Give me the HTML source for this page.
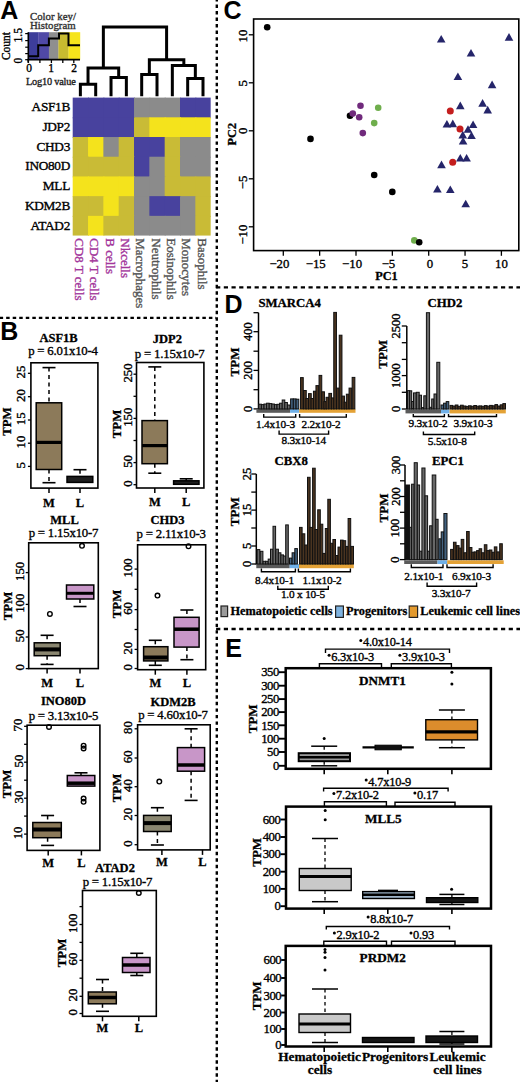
<!DOCTYPE html>
<html><head><meta charset="utf-8"><style>
html,body{margin:0;padding:0;background:#fff;width:520px;height:1082px;overflow:hidden}
svg{display:block}
</style></head><body>
<svg width="520" height="1082" viewBox="0 0 520 1082">
<rect x="0" y="0" width="520" height="1082" fill="#fff"/>
<line x1="216.8" y1="-1.97" x2="216.8" y2="1082" stroke="#000" stroke-width="2.4" stroke-dasharray="3.4 3.117"/>
<line x1="-0.39" y1="317.8" x2="216" y2="317.8" stroke="#000" stroke-width="2.2" stroke-dasharray="3.5 3.04"/>
<line x1="216.1" y1="287.3" x2="520" y2="287.3" stroke="#000" stroke-width="2.3" stroke-dasharray="4.2 3.5"/>
<line x1="216.1" y1="629" x2="520" y2="629" stroke="#000" stroke-width="2.3" stroke-dasharray="4.2 3.5"/>
<text x="0.3" y="18.8" font-family='"Liberation Sans", sans-serif' font-size="25" font-weight="bold" text-anchor="start" fill="#000" >A</text>
<text x="0.2" y="340" font-family='"Liberation Sans", sans-serif' font-size="25" font-weight="bold" text-anchor="start" fill="#000" >B</text>
<text x="223.6" y="19" font-family='"Liberation Sans", sans-serif' font-size="25" font-weight="bold" text-anchor="start" fill="#000" >C</text>
<text x="224.6" y="313" font-family='"Liberation Sans", sans-serif' font-size="25" font-weight="bold" text-anchor="start" fill="#000" >D</text>
<text x="225.2" y="657.2" font-family='"Liberation Sans", sans-serif' font-size="25" font-weight="bold" text-anchor="start" fill="#000" >E</text>
<rect x="72.7" y="97.6" width="16.33" height="20.71" fill="#48429e"/>
<rect x="88.03" y="97.6" width="16.33" height="20.71" fill="#48429e"/>
<rect x="103.36" y="97.6" width="16.33" height="20.71" fill="#48429e"/>
<rect x="118.69" y="97.6" width="16.33" height="20.71" fill="#48429e"/>
<rect x="134.02" y="97.6" width="16.33" height="20.71" fill="#8b8b8b"/>
<rect x="149.35" y="97.6" width="16.33" height="20.71" fill="#8b8b8b"/>
<rect x="164.68" y="97.6" width="16.33" height="20.71" fill="#8b8b8b"/>
<rect x="180.01" y="97.6" width="16.33" height="20.71" fill="#48429e"/>
<rect x="195.34" y="97.6" width="15.33" height="20.71" fill="#48429e"/>
<rect x="72.7" y="117.31" width="16.33" height="20.71" fill="#48429e"/>
<rect x="88.03" y="117.31" width="16.33" height="20.71" fill="#48429e"/>
<rect x="103.36" y="117.31" width="16.33" height="20.71" fill="#48429e"/>
<rect x="118.69" y="117.31" width="16.33" height="20.71" fill="#48429e"/>
<rect x="134.02" y="117.31" width="16.33" height="20.71" fill="#c9bb36"/>
<rect x="149.35" y="117.31" width="16.33" height="20.71" fill="#f4e31c"/>
<rect x="164.68" y="117.31" width="16.33" height="20.71" fill="#f4e31c"/>
<rect x="180.01" y="117.31" width="16.33" height="20.71" fill="#f4e31c"/>
<rect x="195.34" y="117.31" width="15.33" height="20.71" fill="#f4e31c"/>
<rect x="72.7" y="137.02" width="16.33" height="20.71" fill="#c9bb36"/>
<rect x="88.03" y="137.02" width="16.33" height="20.71" fill="#f4e31c"/>
<rect x="103.36" y="137.02" width="16.33" height="20.71" fill="#8b8b8b"/>
<rect x="118.69" y="137.02" width="16.33" height="20.71" fill="#c9bb36"/>
<rect x="134.02" y="137.02" width="16.33" height="20.71" fill="#48429e"/>
<rect x="149.35" y="137.02" width="16.33" height="20.71" fill="#48429e"/>
<rect x="164.68" y="137.02" width="16.33" height="20.71" fill="#c9bb36"/>
<rect x="180.01" y="137.02" width="16.33" height="20.71" fill="#8b8b8b"/>
<rect x="195.34" y="137.02" width="15.33" height="20.71" fill="#8b8b8b"/>
<rect x="72.7" y="156.73" width="16.33" height="20.71" fill="#c9bb36"/>
<rect x="88.03" y="156.73" width="16.33" height="20.71" fill="#c9bb36"/>
<rect x="103.36" y="156.73" width="16.33" height="20.71" fill="#c9bb36"/>
<rect x="118.69" y="156.73" width="16.33" height="20.71" fill="#c9bb36"/>
<rect x="134.02" y="156.73" width="16.33" height="20.71" fill="#48429e"/>
<rect x="149.35" y="156.73" width="16.33" height="20.71" fill="#8b8b8b"/>
<rect x="164.68" y="156.73" width="16.33" height="20.71" fill="#c9bb36"/>
<rect x="180.01" y="156.73" width="16.33" height="20.71" fill="#8b8b8b"/>
<rect x="195.34" y="156.73" width="15.33" height="20.71" fill="#8b8b8b"/>
<rect x="72.7" y="176.44" width="16.33" height="20.71" fill="#f4e31c"/>
<rect x="88.03" y="176.44" width="16.33" height="20.71" fill="#f4e31c"/>
<rect x="103.36" y="176.44" width="16.33" height="20.71" fill="#f4e31c"/>
<rect x="118.69" y="176.44" width="16.33" height="20.71" fill="#f4e31c"/>
<rect x="134.02" y="176.44" width="16.33" height="20.71" fill="#8b8b8b"/>
<rect x="149.35" y="176.44" width="16.33" height="20.71" fill="#8b8b8b"/>
<rect x="164.68" y="176.44" width="16.33" height="20.71" fill="#c9bb36"/>
<rect x="180.01" y="176.44" width="16.33" height="20.71" fill="#c9bb36"/>
<rect x="195.34" y="176.44" width="15.33" height="20.71" fill="#c9bb36"/>
<rect x="72.7" y="196.15" width="16.33" height="20.71" fill="#c9bb36"/>
<rect x="88.03" y="196.15" width="16.33" height="20.71" fill="#c9bb36"/>
<rect x="103.36" y="196.15" width="16.33" height="20.71" fill="#f4e31c"/>
<rect x="118.69" y="196.15" width="16.33" height="20.71" fill="#c9bb36"/>
<rect x="134.02" y="196.15" width="16.33" height="20.71" fill="#8b8b8b"/>
<rect x="149.35" y="196.15" width="16.33" height="20.71" fill="#48429e"/>
<rect x="164.68" y="196.15" width="16.33" height="20.71" fill="#48429e"/>
<rect x="180.01" y="196.15" width="16.33" height="20.71" fill="#8b8b8b"/>
<rect x="195.34" y="196.15" width="15.33" height="20.71" fill="#c9bb36"/>
<rect x="72.7" y="215.86" width="16.33" height="19.71" fill="#c9bb36"/>
<rect x="88.03" y="215.86" width="16.33" height="19.71" fill="#f4e31c"/>
<rect x="103.36" y="215.86" width="16.33" height="19.71" fill="#c9bb36"/>
<rect x="118.69" y="215.86" width="16.33" height="19.71" fill="#c9bb36"/>
<rect x="134.02" y="215.86" width="16.33" height="19.71" fill="#8b8b8b"/>
<rect x="149.35" y="215.86" width="16.33" height="19.71" fill="#8b8b8b"/>
<rect x="164.68" y="215.86" width="16.33" height="19.71" fill="#8b8b8b"/>
<rect x="180.01" y="215.86" width="16.33" height="19.71" fill="#8b8b8b"/>
<rect x="195.34" y="215.86" width="15.33" height="19.71" fill="#c9bb36"/>
<text x="70" y="111.36" font-family='"Liberation Serif", serif' font-size="13.3" text-anchor="end" fill="#000" stroke="#000" stroke-width="0.35" letter-spacing="-0.3">ASF1B</text>
<text x="70" y="131.06" font-family='"Liberation Serif", serif' font-size="13.3" text-anchor="end" fill="#000" stroke="#000" stroke-width="0.35" letter-spacing="-0.3">JDP2</text>
<text x="70" y="150.77" font-family='"Liberation Serif", serif' font-size="13.3" text-anchor="end" fill="#000" stroke="#000" stroke-width="0.35" letter-spacing="-0.3">CHD3</text>
<text x="70" y="170.48" font-family='"Liberation Serif", serif' font-size="13.3" text-anchor="end" fill="#000" stroke="#000" stroke-width="0.35" letter-spacing="-0.3">INO80D</text>
<text x="70" y="190.19" font-family='"Liberation Serif", serif' font-size="13.3" text-anchor="end" fill="#000" stroke="#000" stroke-width="0.35" letter-spacing="-0.3">MLL</text>
<text x="70" y="209.91" font-family='"Liberation Serif", serif' font-size="13.3" text-anchor="end" fill="#000" stroke="#000" stroke-width="0.35" letter-spacing="-0.3">KDM2B</text>
<text x="70" y="229.62" font-family='"Liberation Serif", serif' font-size="13.3" text-anchor="end" fill="#000" stroke="#000" stroke-width="0.35" letter-spacing="-0.3">ATAD2</text>
<text x="74.97" y="238.3" font-family='"Liberation Serif", serif' font-size="13" text-anchor="start" fill="#a3369b" stroke="#a3369b" stroke-width="0.35" transform="rotate(90 74.97 238.3)" >CD8 T cells</text>
<text x="90.3" y="238.3" font-family='"Liberation Serif", serif' font-size="13" text-anchor="start" fill="#a3369b" stroke="#a3369b" stroke-width="0.35" transform="rotate(90 90.3 238.3)" >CD4 T cells</text>
<text x="105.62" y="238.3" font-family='"Liberation Serif", serif' font-size="13" text-anchor="start" fill="#a3369b" stroke="#a3369b" stroke-width="0.35" transform="rotate(90 105.62 238.3)" >B cells</text>
<text x="120.95" y="238.3" font-family='"Liberation Serif", serif' font-size="13" text-anchor="start" fill="#a3369b" stroke="#a3369b" stroke-width="0.35" transform="rotate(90 120.95 238.3)" >Nkcells</text>
<text x="136.28" y="238.3" font-family='"Liberation Serif", serif' font-size="13" text-anchor="start" fill="#555" stroke="#555" stroke-width="0.35" transform="rotate(90 136.28 238.3)" >Macrophages</text>
<text x="151.62" y="238.3" font-family='"Liberation Serif", serif' font-size="13" text-anchor="start" fill="#555" stroke="#555" stroke-width="0.35" transform="rotate(90 151.62 238.3)" >Neutrophils</text>
<text x="166.94" y="238.3" font-family='"Liberation Serif", serif' font-size="13" text-anchor="start" fill="#555" stroke="#555" stroke-width="0.35" transform="rotate(90 166.94 238.3)" >Eosinophils</text>
<text x="182.27" y="238.3" font-family='"Liberation Serif", serif' font-size="13" text-anchor="start" fill="#555" stroke="#555" stroke-width="0.35" transform="rotate(90 182.27 238.3)" >Monocytes</text>
<text x="197.6" y="238.3" font-family='"Liberation Serif", serif' font-size="13" text-anchor="start" fill="#555" stroke="#555" stroke-width="0.35" transform="rotate(90 197.6 238.3)" >Basophils</text>
<path d="M80.37,96.2 V84.2 H95.7 V96.2" stroke="#000" stroke-width="3" fill="none" />
<path d="M111.03,96.2 V77.4 H126.36 V96.2" stroke="#000" stroke-width="3" fill="none" />
<path d="M88.03,84.2 V67.9 H118.69 V77.4" stroke="#000" stroke-width="3" fill="none" />
<path d="M141.69,96.2 V74.5 H157.01 V96.2" stroke="#000" stroke-width="3" fill="none" />
<path d="M187.68,96.2 V78.4 H203 V96.2" stroke="#000" stroke-width="3" fill="none" />
<path d="M172.34,96.2 V65.4 H195.34 V78.4" stroke="#000" stroke-width="3" fill="none" />
<path d="M149.35,74.5 V59.7 H183.84 V65.4" stroke="#000" stroke-width="3" fill="none" />
<path d="M103.36,67.9 V26.9 H166.6 V59.7" stroke="#000" stroke-width="3" fill="none" />
<text x="30" y="20.2" font-family='"Liberation Serif", serif' font-size="10.8" text-anchor="start" fill="#333" stroke="#333" stroke-width="0.35" >Color key/</text>
<text x="30" y="29" font-family='"Liberation Serif", serif' font-size="10.8" text-anchor="start" fill="#333" stroke="#333" stroke-width="0.35" >Histogram</text>
<rect x="28.3" y="32.2" width="10.1" height="27.5" fill="#3d3d9a"/>
<rect x="38.2" y="32.2" width="10.9" height="27.5" fill="#5049a6"/>
<rect x="48.9" y="32.2" width="9.7" height="27.5" fill="#8f8f8f"/>
<rect x="58.4" y="32.2" width="10.3" height="27.5" fill="#c8bb30"/>
<rect x="68.5" y="32.2" width="11.7" height="27.5" fill="#f6e41c"/>
<path d="M28.3,56.2 H38.2 V45.2 H48.9 V38.5 H59 V33.4 H68.5 V45.2 H80" stroke="#000" stroke-width="2" fill="none" />
<line x1="28.3" y1="32.2" x2="28.3" y2="62.5" stroke="#000" stroke-width="1.6"/>
<line x1="27.5" y1="59.7" x2="80" y2="59.7" stroke="#000" stroke-width="1.8"/>
<line x1="25.2" y1="33.6" x2="28.3" y2="33.6" stroke="#000" stroke-width="1.2"/>
<line x1="25.2" y1="40.6" x2="28.3" y2="40.6" stroke="#000" stroke-width="1.2"/>
<line x1="25.2" y1="47.2" x2="28.3" y2="47.2" stroke="#000" stroke-width="1.2"/>
<line x1="25.2" y1="53.6" x2="28.3" y2="53.6" stroke="#000" stroke-width="1.2"/>
<line x1="25.2" y1="59.7" x2="28.3" y2="59.7" stroke="#000" stroke-width="1.2"/>
<line x1="28.3" y1="59.7" x2="28.3" y2="63" stroke="#000" stroke-width="1.3"/>
<line x1="39.9" y1="59.7" x2="39.9" y2="63" stroke="#000" stroke-width="1.3"/>
<line x1="51.4" y1="59.7" x2="51.4" y2="63" stroke="#000" stroke-width="1.3"/>
<line x1="62.8" y1="59.7" x2="62.8" y2="63" stroke="#000" stroke-width="1.3"/>
<line x1="73.8" y1="59.7" x2="73.8" y2="63" stroke="#000" stroke-width="1.3"/>
<text x="29.2" y="72.3" font-family='"Liberation Serif", serif' font-size="11.5" text-anchor="middle" fill="#000" stroke="#000" stroke-width="0.35" >0</text>
<text x="51.2" y="72.3" font-family='"Liberation Serif", serif' font-size="11.5" text-anchor="middle" fill="#000" stroke="#000" stroke-width="0.35" >1</text>
<text x="74" y="72.3" font-family='"Liberation Serif", serif' font-size="11.5" text-anchor="middle" fill="#000" stroke="#000" stroke-width="0.35" >2</text>
<text x="26" y="85.4" font-family='"Liberation Serif", serif' font-size="10.3" text-anchor="start" fill="#222" stroke="#222" stroke-width="0.35" letter-spacing="-0.2">Log10 value</text>
<text x="22.5" y="35.3" font-family='"Liberation Serif", serif' font-size="11.5" text-anchor="middle" fill="#000" stroke="#000" stroke-width="0.35" transform="rotate(-90 22.5 35.3)" >1.5</text>
<text x="22.5" y="60.6" font-family='"Liberation Serif", serif' font-size="11.5" text-anchor="middle" fill="#000" stroke="#000" stroke-width="0.35" transform="rotate(-90 22.5 60.6)" >0</text>
<text x="10.2" y="46" font-family='"Liberation Serif", serif' font-size="11.5" text-anchor="middle" fill="#000" stroke="#000" stroke-width="0.35" transform="rotate(-90 10.2 46)" >Count</text>
<rect x="30.9" y="362.8" width="67" height="125.3" fill="none" stroke="#000" stroke-width="1.6"/>
<text x="58.6" y="341.7" font-family='"Liberation Serif", serif' font-size="12.5" font-weight="bold" text-anchor="middle" fill="#000" stroke="#000" stroke-width="0.3" >ASF1B</text>
<text x="63" y="355.4" font-family='"Liberation Serif", serif' font-size="12.8" text-anchor="middle" fill="#000" stroke="#000" stroke-width="0.35" letter-spacing="-0.2">p = 6.01x10-4</text>
<line x1="27.9" y1="373.3" x2="30.9" y2="373.3" stroke="#000" stroke-width="1.3"/>
<text x="25.2" y="372.1" font-family='"Liberation Serif", serif' font-size="12.8" text-anchor="middle" fill="#000" stroke="#000" stroke-width="0.35" transform="rotate(-90 25.2 372.1)" >25</text>
<line x1="27.9" y1="396.7" x2="30.9" y2="396.7" stroke="#000" stroke-width="1.3"/>
<text x="25.2" y="395.5" font-family='"Liberation Serif", serif' font-size="12.8" text-anchor="middle" fill="#000" stroke="#000" stroke-width="0.35" transform="rotate(-90 25.2 395.5)" >20</text>
<line x1="27.9" y1="420" x2="30.9" y2="420" stroke="#000" stroke-width="1.3"/>
<text x="25.2" y="418.8" font-family='"Liberation Serif", serif' font-size="12.8" text-anchor="middle" fill="#000" stroke="#000" stroke-width="0.35" transform="rotate(-90 25.2 418.8)" >15</text>
<line x1="27.9" y1="443.2" x2="30.9" y2="443.2" stroke="#000" stroke-width="1.3"/>
<text x="25.2" y="442" font-family='"Liberation Serif", serif' font-size="12.8" text-anchor="middle" fill="#000" stroke="#000" stroke-width="0.35" transform="rotate(-90 25.2 442)" >10</text>
<line x1="27.9" y1="466.4" x2="30.9" y2="466.4" stroke="#000" stroke-width="1.3"/>
<text x="25.2" y="465.2" font-family='"Liberation Serif", serif' font-size="12.8" text-anchor="middle" fill="#000" stroke="#000" stroke-width="0.35" transform="rotate(-90 25.2 465.2)" >5</text>
<text x="11.5" y="421.6" font-family='"Liberation Serif", serif' font-size="12.8" font-weight="bold" text-anchor="middle" fill="#000" stroke="#000" stroke-width="0.3" transform="rotate(-90 11.5 421.6)" >TPM</text>
<line x1="49" y1="488.1" x2="49" y2="493.1" stroke="#000" stroke-width="1.5"/>
<text x="49" y="506.6" font-family='"Liberation Serif", serif' font-size="12.5" font-weight="bold" text-anchor="middle" fill="#000" stroke="#000" stroke-width="0.3" >M</text>
<line x1="80" y1="488.1" x2="80" y2="493.1" stroke="#000" stroke-width="1.5"/>
<text x="80" y="506.6" font-family='"Liberation Serif", serif' font-size="12.5" font-weight="bold" text-anchor="middle" fill="#000" stroke="#000" stroke-width="0.3" >L</text>
<line x1="49" y1="367.6" x2="49" y2="402.8" stroke="#000" stroke-width="1.5" stroke-dasharray="4 3.5"/>
<line x1="42.5" y1="367.6" x2="55.5" y2="367.6" stroke="#000" stroke-width="1.6"/>
<line x1="49" y1="469.5" x2="49" y2="482.7" stroke="#000" stroke-width="1.5" stroke-dasharray="4 3.5"/>
<line x1="42.5" y1="482.7" x2="55.5" y2="482.7" stroke="#000" stroke-width="1.6"/>
<rect x="36.2" y="402.8" width="25.5" height="66.7" fill="#8c7a5a" stroke="#000" stroke-width="1.5"/>
<line x1="36.2" y1="442.4" x2="61.7" y2="442.4" stroke="#000" stroke-width="3.2"/>
<line x1="80" y1="469.7" x2="80" y2="476.4" stroke="#000" stroke-width="1.5" stroke-dasharray="4 3.5"/>
<line x1="73.5" y1="469.7" x2="86.5" y2="469.7" stroke="#000" stroke-width="1.6"/>
<rect x="67" y="476.4" width="25.8" height="6" fill="#1e1e1e" stroke="#000" stroke-width="1.5"/>
<rect x="136.5" y="362.5" width="67.4" height="125.5" fill="none" stroke="#000" stroke-width="1.6"/>
<text x="167.4" y="343.2" font-family='"Liberation Serif", serif' font-size="12.5" font-weight="bold" text-anchor="middle" fill="#000" stroke="#000" stroke-width="0.3" >JDP2</text>
<text x="169.7" y="358" font-family='"Liberation Serif", serif' font-size="12.8" text-anchor="middle" fill="#000" stroke="#000" stroke-width="0.35" letter-spacing="-0.2">p = 1.15x10-7</text>
<line x1="133.5" y1="374.2" x2="136.5" y2="374.2" stroke="#000" stroke-width="1.3"/>
<text x="131.8" y="373" font-family='"Liberation Serif", serif' font-size="12.8" text-anchor="middle" fill="#000" stroke="#000" stroke-width="0.35" transform="rotate(-90 131.8 373)" >250</text>
<line x1="133.5" y1="396.3" x2="136.5" y2="396.3" stroke="#000" stroke-width="1.3"/>
<line x1="133.5" y1="418.4" x2="136.5" y2="418.4" stroke="#000" stroke-width="1.3"/>
<text x="131.8" y="417.2" font-family='"Liberation Serif", serif' font-size="12.8" text-anchor="middle" fill="#000" stroke="#000" stroke-width="0.35" transform="rotate(-90 131.8 417.2)" >150</text>
<line x1="133.5" y1="440.5" x2="136.5" y2="440.5" stroke="#000" stroke-width="1.3"/>
<line x1="133.5" y1="462.6" x2="136.5" y2="462.6" stroke="#000" stroke-width="1.3"/>
<text x="131.8" y="461.4" font-family='"Liberation Serif", serif' font-size="12.8" text-anchor="middle" fill="#000" stroke="#000" stroke-width="0.35" transform="rotate(-90 131.8 461.4)" >50</text>
<line x1="133.5" y1="484.7" x2="136.5" y2="484.7" stroke="#000" stroke-width="1.3"/>
<text x="131.8" y="483.5" font-family='"Liberation Serif", serif' font-size="12.8" text-anchor="middle" fill="#000" stroke="#000" stroke-width="0.35" transform="rotate(-90 131.8 483.5)" >0</text>
<text x="121" y="424" font-family='"Liberation Serif", serif' font-size="12.8" font-weight="bold" text-anchor="middle" fill="#000" stroke="#000" stroke-width="0.3" transform="rotate(-90 121 424)" >TPM</text>
<line x1="154.8" y1="488" x2="154.8" y2="493" stroke="#000" stroke-width="1.5"/>
<text x="154.8" y="505.8" font-family='"Liberation Serif", serif' font-size="12.5" font-weight="bold" text-anchor="middle" fill="#000" stroke="#000" stroke-width="0.3" >M</text>
<line x1="186.2" y1="488" x2="186.2" y2="493" stroke="#000" stroke-width="1.5"/>
<text x="186.2" y="505.8" font-family='"Liberation Serif", serif' font-size="12.5" font-weight="bold" text-anchor="middle" fill="#000" stroke="#000" stroke-width="0.3" >L</text>
<line x1="154.8" y1="366.9" x2="154.8" y2="420.6" stroke="#000" stroke-width="1.5" stroke-dasharray="4 3.5"/>
<line x1="148.3" y1="366.9" x2="161.3" y2="366.9" stroke="#000" stroke-width="1.6"/>
<line x1="154.8" y1="463.7" x2="154.8" y2="473.2" stroke="#000" stroke-width="1.5" stroke-dasharray="4 3.5"/>
<line x1="148.3" y1="473.2" x2="161.3" y2="473.2" stroke="#000" stroke-width="1.6"/>
<rect x="142" y="420.6" width="25.4" height="43.1" fill="#8c7a5a" stroke="#000" stroke-width="1.5"/>
<line x1="142" y1="445.6" x2="167.4" y2="445.6" stroke="#000" stroke-width="3.2"/>
<line x1="186.2" y1="478.8" x2="186.2" y2="480.8" stroke="#000" stroke-width="1.5" stroke-dasharray="4 3.5"/>
<line x1="179.7" y1="478.8" x2="192.7" y2="478.8" stroke="#000" stroke-width="1.6"/>
<rect x="173.6" y="480.8" width="25.4" height="3.5" fill="#1e1e1e" stroke="#000" stroke-width="1.5"/>
<rect x="28.7" y="542.8" width="69.6" height="125.8" fill="none" stroke="#000" stroke-width="1.6"/>
<text x="64.5" y="523.6" font-family='"Liberation Serif", serif' font-size="12.5" font-weight="bold" text-anchor="middle" fill="#000" stroke="#000" stroke-width="0.3" >MLL</text>
<text x="63.5" y="537.3" font-family='"Liberation Serif", serif' font-size="12.8" text-anchor="middle" fill="#000" stroke="#000" stroke-width="0.35" letter-spacing="-0.2">p = 1.15x10-7</text>
<line x1="25.7" y1="572.6" x2="28.7" y2="572.6" stroke="#000" stroke-width="1.3"/>
<text x="24" y="571.4" font-family='"Liberation Serif", serif' font-size="12.8" text-anchor="middle" fill="#000" stroke="#000" stroke-width="0.35" transform="rotate(-90 24 571.4)" >150</text>
<line x1="25.7" y1="604.4" x2="28.7" y2="604.4" stroke="#000" stroke-width="1.3"/>
<text x="24" y="603.2" font-family='"Liberation Serif", serif' font-size="12.8" text-anchor="middle" fill="#000" stroke="#000" stroke-width="0.35" transform="rotate(-90 24 603.2)" >100</text>
<line x1="25.7" y1="637" x2="28.7" y2="637" stroke="#000" stroke-width="1.3"/>
<text x="24" y="635.8" font-family='"Liberation Serif", serif' font-size="12.8" text-anchor="middle" fill="#000" stroke="#000" stroke-width="0.35" transform="rotate(-90 24 635.8)" >50</text>
<line x1="25.7" y1="668.6" x2="28.7" y2="668.6" stroke="#000" stroke-width="1.3"/>
<text x="24" y="667.4" font-family='"Liberation Serif", serif' font-size="12.8" text-anchor="middle" fill="#000" stroke="#000" stroke-width="0.35" transform="rotate(-90 24 667.4)" >0</text>
<text x="12" y="606" font-family='"Liberation Serif", serif' font-size="12.8" font-weight="bold" text-anchor="middle" fill="#000" stroke="#000" stroke-width="0.3" transform="rotate(-90 12 606)" >TPM</text>
<line x1="47.1" y1="668.6" x2="47.1" y2="673.6" stroke="#000" stroke-width="1.5"/>
<text x="47.1" y="687" font-family='"Liberation Serif", serif' font-size="12.5" font-weight="bold" text-anchor="middle" fill="#000" stroke="#000" stroke-width="0.3" >M</text>
<line x1="80" y1="668.6" x2="80" y2="673.6" stroke="#000" stroke-width="1.5"/>
<text x="80" y="687" font-family='"Liberation Serif", serif' font-size="12.5" font-weight="bold" text-anchor="middle" fill="#000" stroke="#000" stroke-width="0.3" >L</text>
<line x1="47.1" y1="635.3" x2="47.1" y2="642.8" stroke="#000" stroke-width="1.5" stroke-dasharray="4 3.5"/>
<line x1="40.6" y1="635.3" x2="53.6" y2="635.3" stroke="#000" stroke-width="1.6"/>
<line x1="47.1" y1="655.7" x2="47.1" y2="664.4" stroke="#000" stroke-width="1.5" stroke-dasharray="4 3.5"/>
<line x1="40.6" y1="664.4" x2="53.6" y2="664.4" stroke="#000" stroke-width="1.6"/>
<rect x="34.2" y="642.8" width="26" height="12.9" fill="#8a8670" stroke="#000" stroke-width="1.5"/>
<line x1="34.2" y1="649.4" x2="60.2" y2="649.4" stroke="#000" stroke-width="4"/>
<circle cx="49.9" cy="613.9" r="2.3" fill="none" stroke="#000" stroke-width="1.4"/>
<line x1="80" y1="599" x2="80" y2="606.5" stroke="#000" stroke-width="1.5" stroke-dasharray="4 3.5"/>
<line x1="73.5" y1="606.5" x2="86.5" y2="606.5" stroke="#000" stroke-width="1.6"/>
<rect x="66.5" y="585" width="27.3" height="14" fill="#c896c8" stroke="#000" stroke-width="1.5"/>
<line x1="66.5" y1="593.3" x2="93.8" y2="593.3" stroke="#000" stroke-width="3"/>
<circle cx="82" cy="545.8" r="2.3" fill="none" stroke="#000" stroke-width="1.4"/>
<rect x="137.6" y="544.8" width="68.1" height="124.9" fill="none" stroke="#000" stroke-width="1.6"/>
<text x="167.4" y="524.2" font-family='"Liberation Serif", serif' font-size="12.5" font-weight="bold" text-anchor="middle" fill="#000" stroke="#000" stroke-width="0.3" >CHD3</text>
<text x="171.1" y="538.1" font-family='"Liberation Serif", serif' font-size="12.8" text-anchor="middle" fill="#000" stroke="#000" stroke-width="0.35" letter-spacing="-0.2">p = 2.11x10-3</text>
<line x1="134.6" y1="569.1" x2="137.6" y2="569.1" stroke="#000" stroke-width="1.3"/>
<text x="132.5" y="567.9" font-family='"Liberation Serif", serif' font-size="12.8" text-anchor="middle" fill="#000" stroke="#000" stroke-width="0.35" transform="rotate(-90 132.5 567.9)" >100</text>
<line x1="134.6" y1="589.3" x2="137.6" y2="589.3" stroke="#000" stroke-width="1.3"/>
<line x1="134.6" y1="609.6" x2="137.6" y2="609.6" stroke="#000" stroke-width="1.3"/>
<text x="132.5" y="608.4" font-family='"Liberation Serif", serif' font-size="12.8" text-anchor="middle" fill="#000" stroke="#000" stroke-width="0.35" transform="rotate(-90 132.5 608.4)" >60</text>
<line x1="134.6" y1="629.5" x2="137.6" y2="629.5" stroke="#000" stroke-width="1.3"/>
<line x1="134.6" y1="649.4" x2="137.6" y2="649.4" stroke="#000" stroke-width="1.3"/>
<text x="132.5" y="648.2" font-family='"Liberation Serif", serif' font-size="12.8" text-anchor="middle" fill="#000" stroke="#000" stroke-width="0.35" transform="rotate(-90 132.5 648.2)" >20</text>
<line x1="134.6" y1="668.5" x2="137.6" y2="668.5" stroke="#000" stroke-width="1.3"/>
<text x="132.5" y="667.3" font-family='"Liberation Serif", serif' font-size="12.8" text-anchor="middle" fill="#000" stroke="#000" stroke-width="0.35" transform="rotate(-90 132.5 667.3)" >0</text>
<text x="121" y="604" font-family='"Liberation Serif", serif' font-size="12.8" font-weight="bold" text-anchor="middle" fill="#000" stroke="#000" stroke-width="0.3" transform="rotate(-90 121 604)" >TPM</text>
<line x1="155.3" y1="669.7" x2="155.3" y2="674.7" stroke="#000" stroke-width="1.5"/>
<text x="155.3" y="687.4" font-family='"Liberation Serif", serif' font-size="12.5" font-weight="bold" text-anchor="middle" fill="#000" stroke="#000" stroke-width="0.3" >M</text>
<line x1="186.9" y1="669.7" x2="186.9" y2="674.7" stroke="#000" stroke-width="1.5"/>
<text x="186.9" y="687.4" font-family='"Liberation Serif", serif' font-size="12.5" font-weight="bold" text-anchor="middle" fill="#000" stroke="#000" stroke-width="0.3" >L</text>
<line x1="155.3" y1="640.3" x2="155.3" y2="646.7" stroke="#000" stroke-width="1.5" stroke-dasharray="4 3.5"/>
<line x1="148.8" y1="640.3" x2="161.8" y2="640.3" stroke="#000" stroke-width="1.6"/>
<line x1="155.3" y1="660.9" x2="155.3" y2="665.3" stroke="#000" stroke-width="1.5" stroke-dasharray="4 3.5"/>
<line x1="148.8" y1="665.3" x2="161.8" y2="665.3" stroke="#000" stroke-width="1.6"/>
<rect x="143.6" y="646.7" width="24.3" height="14.2" fill="#8c7a5a" stroke="#000" stroke-width="1.5"/>
<line x1="143.6" y1="657.5" x2="167.9" y2="657.5" stroke="#000" stroke-width="4"/>
<circle cx="157.5" cy="595.6" r="2.3" fill="none" stroke="#000" stroke-width="1.4"/>
<line x1="186.9" y1="610" x2="186.9" y2="617.3" stroke="#000" stroke-width="1.5" stroke-dasharray="4 3.5"/>
<line x1="180.4" y1="610" x2="193.4" y2="610" stroke="#000" stroke-width="1.6"/>
<line x1="186.9" y1="647.1" x2="186.9" y2="659.7" stroke="#000" stroke-width="1.5" stroke-dasharray="4 3.5"/>
<line x1="180.4" y1="659.7" x2="193.4" y2="659.7" stroke="#000" stroke-width="1.6"/>
<rect x="174" y="617.3" width="25.1" height="29.8" fill="#c896c8" stroke="#000" stroke-width="1.5"/>
<line x1="174" y1="629.2" x2="199.1" y2="629.2" stroke="#000" stroke-width="3.5"/>
<circle cx="188.5" cy="546.3" r="2.3" fill="none" stroke="#000" stroke-width="1.4"/>
<rect x="27.1" y="725.2" width="72.8" height="125.2" fill="none" stroke="#000" stroke-width="1.6"/>
<text x="63.5" y="705.1" font-family='"Liberation Serif", serif' font-size="12.5" font-weight="bold" text-anchor="middle" fill="#000" stroke="#000" stroke-width="0.3" >INO80D</text>
<text x="63.5" y="719.9" font-family='"Liberation Serif", serif' font-size="12.8" text-anchor="middle" fill="#000" stroke="#000" stroke-width="0.35" letter-spacing="-0.2">p = 3.13x10-5</text>
<line x1="24.1" y1="726.3" x2="27.1" y2="726.3" stroke="#000" stroke-width="1.3"/>
<text x="22.5" y="725.1" font-family='"Liberation Serif", serif' font-size="12.8" text-anchor="middle" fill="#000" stroke="#000" stroke-width="0.35" transform="rotate(-90 22.5 725.1)" >70</text>
<line x1="24.1" y1="744.3" x2="27.1" y2="744.3" stroke="#000" stroke-width="1.3"/>
<line x1="24.1" y1="762.2" x2="27.1" y2="762.2" stroke="#000" stroke-width="1.3"/>
<text x="22.5" y="761" font-family='"Liberation Serif", serif' font-size="12.8" text-anchor="middle" fill="#000" stroke="#000" stroke-width="0.35" transform="rotate(-90 22.5 761)" >50</text>
<line x1="24.1" y1="780.2" x2="27.1" y2="780.2" stroke="#000" stroke-width="1.3"/>
<line x1="24.1" y1="798.2" x2="27.1" y2="798.2" stroke="#000" stroke-width="1.3"/>
<text x="22.5" y="797" font-family='"Liberation Serif", serif' font-size="12.8" text-anchor="middle" fill="#000" stroke="#000" stroke-width="0.35" transform="rotate(-90 22.5 797)" >30</text>
<line x1="24.1" y1="816.1" x2="27.1" y2="816.1" stroke="#000" stroke-width="1.3"/>
<line x1="24.1" y1="834.1" x2="27.1" y2="834.1" stroke="#000" stroke-width="1.3"/>
<text x="22.5" y="832.9" font-family='"Liberation Serif", serif' font-size="12.8" text-anchor="middle" fill="#000" stroke="#000" stroke-width="0.35" transform="rotate(-90 22.5 832.9)" >10</text>
<text x="11.3" y="784" font-family='"Liberation Serif", serif' font-size="12.8" font-weight="bold" text-anchor="middle" fill="#000" stroke="#000" stroke-width="0.3" transform="rotate(-90 11.3 784)" >TPM</text>
<line x1="48.2" y1="850.4" x2="48.2" y2="855.4" stroke="#000" stroke-width="1.5"/>
<text x="48.2" y="867" font-family='"Liberation Serif", serif' font-size="12.5" font-weight="bold" text-anchor="middle" fill="#000" stroke="#000" stroke-width="0.3" >M</text>
<line x1="81.4" y1="850.4" x2="81.4" y2="855.4" stroke="#000" stroke-width="1.5"/>
<text x="81.4" y="867" font-family='"Liberation Serif", serif' font-size="12.5" font-weight="bold" text-anchor="middle" fill="#000" stroke="#000" stroke-width="0.3" >L</text>
<line x1="47.6" y1="815.5" x2="47.6" y2="822.5" stroke="#000" stroke-width="1.5" stroke-dasharray="4 3.5"/>
<line x1="41.1" y1="815.5" x2="54.1" y2="815.5" stroke="#000" stroke-width="1.6"/>
<line x1="47.6" y1="837.7" x2="47.6" y2="845.4" stroke="#000" stroke-width="1.5" stroke-dasharray="4 3.5"/>
<line x1="41.1" y1="845.4" x2="54.1" y2="845.4" stroke="#000" stroke-width="1.6"/>
<rect x="32.8" y="822.5" width="28.5" height="15.2" fill="#8c7a5a" stroke="#000" stroke-width="1.5"/>
<line x1="32.8" y1="829.5" x2="61.3" y2="829.5" stroke="#000" stroke-width="4"/>
<circle cx="49" cy="726.9" r="2.3" fill="none" stroke="#000" stroke-width="1.4"/>
<line x1="81" y1="772.8" x2="81" y2="775.5" stroke="#000" stroke-width="1.5" stroke-dasharray="4 3.5"/>
<line x1="74.5" y1="772.8" x2="87.5" y2="772.8" stroke="#000" stroke-width="1.6"/>
<rect x="67.3" y="775.5" width="27.5" height="10.6" fill="#c896c8" stroke="#000" stroke-width="1.5"/>
<line x1="67.3" y1="783.2" x2="94.8" y2="783.2" stroke="#000" stroke-width="3.5"/>
<circle cx="83.6" cy="745.7" r="2.3" fill="none" stroke="#000" stroke-width="1.4"/>
<circle cx="83.6" cy="748.5" r="2.3" fill="none" stroke="#000" stroke-width="1.4"/>
<circle cx="83.6" cy="798.6" r="2.3" fill="none" stroke="#000" stroke-width="1.4"/>
<circle cx="83.6" cy="801.8" r="2.3" fill="none" stroke="#000" stroke-width="1.4"/>
<rect x="137.6" y="724.8" width="72.6" height="125.1" fill="none" stroke="#000" stroke-width="1.6"/>
<text x="173" y="706" font-family='"Liberation Serif", serif' font-size="12.5" font-weight="bold" text-anchor="middle" fill="#000" stroke="#000" stroke-width="0.3" >KDM2B</text>
<text x="173" y="719.3" font-family='"Liberation Serif", serif' font-size="12.8" text-anchor="middle" fill="#000" stroke="#000" stroke-width="0.35" letter-spacing="-0.2">p = 4.60x10-7</text>
<line x1="134.6" y1="728.8" x2="137.6" y2="728.8" stroke="#000" stroke-width="1.3"/>
<text x="132" y="727.6" font-family='"Liberation Serif", serif' font-size="12.8" text-anchor="middle" fill="#000" stroke="#000" stroke-width="0.35" transform="rotate(-90 132 727.6)" >80</text>
<line x1="134.6" y1="758" x2="137.6" y2="758" stroke="#000" stroke-width="1.3"/>
<text x="132" y="756.8" font-family='"Liberation Serif", serif' font-size="12.8" text-anchor="middle" fill="#000" stroke="#000" stroke-width="0.35" transform="rotate(-90 132 756.8)" >60</text>
<line x1="134.6" y1="786.7" x2="137.6" y2="786.7" stroke="#000" stroke-width="1.3"/>
<text x="132" y="785.5" font-family='"Liberation Serif", serif' font-size="12.8" text-anchor="middle" fill="#000" stroke="#000" stroke-width="0.35" transform="rotate(-90 132 785.5)" >40</text>
<line x1="134.6" y1="815.5" x2="137.6" y2="815.5" stroke="#000" stroke-width="1.3"/>
<text x="132" y="814.3" font-family='"Liberation Serif", serif' font-size="12.8" text-anchor="middle" fill="#000" stroke="#000" stroke-width="0.35" transform="rotate(-90 132 814.3)" >20</text>
<line x1="134.6" y1="844.7" x2="137.6" y2="844.7" stroke="#000" stroke-width="1.3"/>
<text x="132" y="843.5" font-family='"Liberation Serif", serif' font-size="12.8" text-anchor="middle" fill="#000" stroke="#000" stroke-width="0.35" transform="rotate(-90 132 843.5)" >0</text>
<text x="121" y="788" font-family='"Liberation Serif", serif' font-size="12.8" font-weight="bold" text-anchor="middle" fill="#000" stroke="#000" stroke-width="0.3" transform="rotate(-90 121 788)" >TPM</text>
<line x1="161.9" y1="849.9" x2="161.9" y2="854.9" stroke="#000" stroke-width="1.5"/>
<text x="161.9" y="865.5" font-family='"Liberation Serif", serif' font-size="12.5" font-weight="bold" text-anchor="middle" fill="#000" stroke="#000" stroke-width="0.3" >M</text>
<line x1="202.5" y1="849.9" x2="202.5" y2="854.9" stroke="#000" stroke-width="1.5"/>
<text x="202.5" y="865.5" font-family='"Liberation Serif", serif' font-size="12.5" font-weight="bold" text-anchor="middle" fill="#000" stroke="#000" stroke-width="0.3" >L</text>
<line x1="157.4" y1="807.7" x2="157.4" y2="815.4" stroke="#000" stroke-width="1.5" stroke-dasharray="4 3.5"/>
<line x1="150.9" y1="807.7" x2="163.9" y2="807.7" stroke="#000" stroke-width="1.6"/>
<line x1="157.4" y1="831.5" x2="157.4" y2="845" stroke="#000" stroke-width="1.5" stroke-dasharray="4 3.5"/>
<line x1="150.9" y1="845" x2="163.9" y2="845" stroke="#000" stroke-width="1.6"/>
<rect x="143.6" y="815.4" width="27.6" height="16.1" fill="#8a8670" stroke="#000" stroke-width="1.5"/>
<line x1="143.6" y1="823.1" x2="171.2" y2="823.1" stroke="#000" stroke-width="4"/>
<circle cx="159.3" cy="781.6" r="2.3" fill="none" stroke="#000" stroke-width="1.4"/>
<line x1="191.1" y1="728.8" x2="191.1" y2="747.6" stroke="#000" stroke-width="1.5" stroke-dasharray="4 3.5"/>
<line x1="184.6" y1="728.8" x2="197.6" y2="728.8" stroke="#000" stroke-width="1.6"/>
<line x1="191.1" y1="771.2" x2="191.1" y2="800.4" stroke="#000" stroke-width="1.5" stroke-dasharray="4 3.5"/>
<line x1="184.6" y1="800.4" x2="197.6" y2="800.4" stroke="#000" stroke-width="1.6"/>
<rect x="177.4" y="747.6" width="27.2" height="23.6" fill="#c896c8" stroke="#000" stroke-width="1.5"/>
<line x1="177.4" y1="765" x2="204.6" y2="765" stroke="#000" stroke-width="3.5"/>
<rect x="82.5" y="890.5" width="73.8" height="125.8" fill="none" stroke="#000" stroke-width="1.6"/>
<text x="115" y="872" font-family='"Liberation Serif", serif' font-size="12.5" font-weight="bold" text-anchor="middle" fill="#000" stroke="#000" stroke-width="0.3" >ATAD2</text>
<text x="117.5" y="885.5" font-family='"Liberation Serif", serif' font-size="12.8" text-anchor="middle" fill="#000" stroke="#000" stroke-width="0.35" letter-spacing="-0.2">p = 1.15x10-7</text>
<line x1="79.5" y1="906.6" x2="82.5" y2="906.6" stroke="#000" stroke-width="1.3"/>
<line x1="79.5" y1="924.5" x2="82.5" y2="924.5" stroke="#000" stroke-width="1.3"/>
<text x="77" y="923.3" font-family='"Liberation Serif", serif' font-size="12.8" text-anchor="middle" fill="#000" stroke="#000" stroke-width="0.35" transform="rotate(-90 77 923.3)" >100</text>
<line x1="79.5" y1="942.4" x2="82.5" y2="942.4" stroke="#000" stroke-width="1.3"/>
<line x1="79.5" y1="960.3" x2="82.5" y2="960.3" stroke="#000" stroke-width="1.3"/>
<text x="77" y="959.1" font-family='"Liberation Serif", serif' font-size="12.8" text-anchor="middle" fill="#000" stroke="#000" stroke-width="0.35" transform="rotate(-90 77 959.1)" >60</text>
<line x1="79.5" y1="978.2" x2="82.5" y2="978.2" stroke="#000" stroke-width="1.3"/>
<line x1="79.5" y1="996.3" x2="82.5" y2="996.3" stroke="#000" stroke-width="1.3"/>
<text x="77" y="995.1" font-family='"Liberation Serif", serif' font-size="12.8" text-anchor="middle" fill="#000" stroke="#000" stroke-width="0.35" transform="rotate(-90 77 995.1)" >20</text>
<line x1="79.5" y1="1013.5" x2="82.5" y2="1013.5" stroke="#000" stroke-width="1.3"/>
<text x="77" y="1012.3" font-family='"Liberation Serif", serif' font-size="12.8" text-anchor="middle" fill="#000" stroke="#000" stroke-width="0.35" transform="rotate(-90 77 1012.3)" >0</text>
<text x="65.5" y="953" font-family='"Liberation Serif", serif' font-size="12.8" font-weight="bold" text-anchor="middle" fill="#000" stroke="#000" stroke-width="0.3" transform="rotate(-90 65.5 953)" >TPM</text>
<line x1="102.5" y1="1016.3" x2="102.5" y2="1021.3" stroke="#000" stroke-width="1.5"/>
<text x="102.5" y="1032" font-family='"Liberation Serif", serif' font-size="12.5" font-weight="bold" text-anchor="middle" fill="#000" stroke="#000" stroke-width="0.3" >M</text>
<line x1="138.8" y1="1016.3" x2="138.8" y2="1021.3" stroke="#000" stroke-width="1.5"/>
<text x="138.8" y="1032" font-family='"Liberation Serif", serif' font-size="12.5" font-weight="bold" text-anchor="middle" fill="#000" stroke="#000" stroke-width="0.3" >L</text>
<line x1="102.5" y1="979.5" x2="102.5" y2="992" stroke="#000" stroke-width="1.5" stroke-dasharray="4 3.5"/>
<line x1="96" y1="979.5" x2="109" y2="979.5" stroke="#000" stroke-width="1.6"/>
<line x1="102.5" y1="1003.8" x2="102.5" y2="1011.3" stroke="#000" stroke-width="1.5" stroke-dasharray="4 3.5"/>
<line x1="96" y1="1011.3" x2="109" y2="1011.3" stroke="#000" stroke-width="1.6"/>
<rect x="88.3" y="992" width="28" height="11.8" fill="#8c7a5a" stroke="#000" stroke-width="1.5"/>
<line x1="88.3" y1="997.5" x2="116.3" y2="997.5" stroke="#000" stroke-width="3.5"/>
<line x1="136.8" y1="953.3" x2="136.8" y2="957.5" stroke="#000" stroke-width="1.5" stroke-dasharray="4 3.5"/>
<line x1="130.3" y1="953.3" x2="143.3" y2="953.3" stroke="#000" stroke-width="1.6"/>
<line x1="136.8" y1="972.5" x2="136.8" y2="975.5" stroke="#000" stroke-width="1.5" stroke-dasharray="4 3.5"/>
<line x1="130.3" y1="975.5" x2="143.3" y2="975.5" stroke="#000" stroke-width="1.6"/>
<rect x="122.5" y="957.5" width="27.5" height="15" fill="#c896c8" stroke="#000" stroke-width="1.5"/>
<line x1="122.5" y1="965" x2="150" y2="965" stroke="#000" stroke-width="3.5"/>
<circle cx="138.8" cy="893" r="2.3" fill="none" stroke="#000" stroke-width="1.4"/>
<rect x="253.6" y="19" width="265.2" height="231.6" fill="none" stroke="#000" stroke-width="1.6"/>
<line x1="283.3" y1="250.6" x2="283.3" y2="255.8" stroke="#000" stroke-width="1.3"/>
<text x="279.4" y="267.7" font-family='"Liberation Serif", serif' font-size="12.8" text-anchor="middle" fill="#000" stroke="#000" stroke-width="0.35" >−20</text>
<line x1="319.65" y1="250.6" x2="319.65" y2="255.8" stroke="#000" stroke-width="1.3"/>
<text x="315.75" y="267.7" font-family='"Liberation Serif", serif' font-size="12.8" text-anchor="middle" fill="#000" stroke="#000" stroke-width="0.35" >−15</text>
<line x1="356" y1="250.6" x2="356" y2="255.8" stroke="#000" stroke-width="1.3"/>
<text x="352.1" y="267.7" font-family='"Liberation Serif", serif' font-size="12.8" text-anchor="middle" fill="#000" stroke="#000" stroke-width="0.35" >−10</text>
<line x1="392.35" y1="250.6" x2="392.35" y2="255.8" stroke="#000" stroke-width="1.3"/>
<text x="388.45" y="267.7" font-family='"Liberation Serif", serif' font-size="12.8" text-anchor="middle" fill="#000" stroke="#000" stroke-width="0.35" >−5</text>
<line x1="428.7" y1="250.6" x2="428.7" y2="255.8" stroke="#000" stroke-width="1.3"/>
<text x="429.9" y="267.7" font-family='"Liberation Serif", serif' font-size="12.8" text-anchor="middle" fill="#000" stroke="#000" stroke-width="0.35" >0</text>
<line x1="465.05" y1="250.6" x2="465.05" y2="255.8" stroke="#000" stroke-width="1.3"/>
<text x="465.05" y="267.7" font-family='"Liberation Serif", serif' font-size="12.8" text-anchor="middle" fill="#000" stroke="#000" stroke-width="0.35" >5</text>
<line x1="501.4" y1="250.6" x2="501.4" y2="255.8" stroke="#000" stroke-width="1.3"/>
<text x="501.4" y="267.7" font-family='"Liberation Serif", serif' font-size="12.8" text-anchor="middle" fill="#000" stroke="#000" stroke-width="0.35" >10</text>
<line x1="248.8" y1="34.8" x2="253.6" y2="34.8" stroke="#000" stroke-width="1.3"/>
<text x="247.3" y="36.1" font-family='"Liberation Serif", serif' font-size="12.8" text-anchor="middle" fill="#000" stroke="#000" stroke-width="0.35" transform="rotate(-90 247.3 36.1)" >10</text>
<line x1="248.8" y1="82.8" x2="253.6" y2="82.8" stroke="#000" stroke-width="1.3"/>
<text x="247.3" y="83.2" font-family='"Liberation Serif", serif' font-size="12.8" text-anchor="middle" fill="#000" stroke="#000" stroke-width="0.35" transform="rotate(-90 247.3 83.2)" >5</text>
<line x1="248.8" y1="130.8" x2="253.6" y2="130.8" stroke="#000" stroke-width="1.3"/>
<text x="247.3" y="130.9" font-family='"Liberation Serif", serif' font-size="12.8" text-anchor="middle" fill="#000" stroke="#000" stroke-width="0.35" transform="rotate(-90 247.3 130.9)" >0</text>
<line x1="248.8" y1="178.8" x2="253.6" y2="178.8" stroke="#000" stroke-width="1.3"/>
<text x="247.3" y="182.5" font-family='"Liberation Serif", serif' font-size="12.8" text-anchor="middle" fill="#000" stroke="#000" stroke-width="0.35" transform="rotate(-90 247.3 182.5)" >−5</text>
<line x1="248.8" y1="226.8" x2="253.6" y2="226.8" stroke="#000" stroke-width="1.3"/>
<text x="247.3" y="234.6" font-family='"Liberation Serif", serif' font-size="12.8" text-anchor="middle" fill="#000" stroke="#000" stroke-width="0.35" transform="rotate(-90 247.3 234.6)" >−10</text>
<text x="386.4" y="279.6" font-family='"Liberation Serif", serif' font-size="12.3" font-weight="bold" text-anchor="middle" fill="#000" stroke="#000" stroke-width="0.3" >PC1</text>
<text x="235.6" y="134.2" font-family='"Liberation Serif", serif' font-size="12.3" font-weight="bold" text-anchor="middle" fill="#000" stroke="#000" stroke-width="0.3" transform="rotate(-90 235.6 134.2)" >PC2</text>
<circle cx="267.2" cy="27.3" r="3.3" fill="#000"/>
<circle cx="310.5" cy="138.9" r="3.3" fill="#000"/>
<circle cx="350" cy="115.7" r="3.3" fill="#000"/>
<circle cx="374.2" cy="175" r="3.3" fill="#000"/>
<circle cx="392.3" cy="191.9" r="3.3" fill="#000"/>
<circle cx="352.8" cy="113.6" r="3.3" fill="#702a7c"/>
<circle cx="360.5" cy="105.7" r="3.3" fill="#702a7c"/>
<circle cx="359.2" cy="117.2" r="3.3" fill="#702a7c"/>
<circle cx="362.8" cy="133.1" r="3.3" fill="#702a7c"/>
<circle cx="378.2" cy="107.7" r="3.3" fill="#6fae4c"/>
<circle cx="374.2" cy="123.1" r="3.3" fill="#6fae4c"/>
<circle cx="414.3" cy="240.4" r="3.3" fill="#6fae4c"/>
<circle cx="419.2" cy="242.3" r="3.3" fill="#000"/>
<circle cx="450.3" cy="111.1" r="3.5" fill="#c41e1e"/>
<circle cx="460" cy="128.9" r="3.5" fill="#c41e1e"/>
<circle cx="452.7" cy="162.3" r="3.5" fill="#c41e1e"/>
<path d="M436.9,42.6 L441.2,35 L445.5,42.6 Z" fill="#25256a"/>
<path d="M504.7,40.7 L509,33.1 L513.3,40.7 Z" fill="#25256a"/>
<path d="M466.7,56.5 L471,48.9 L475.3,56.5 Z" fill="#25256a"/>
<path d="M453.6,80 L457.9,72.4 L462.2,80 Z" fill="#25256a"/>
<path d="M487.8,88.2 L492.1,80.6 L496.4,88.2 Z" fill="#25256a"/>
<path d="M456,109.2 L460.3,101.6 L464.6,109.2 Z" fill="#25256a"/>
<path d="M478.3,106.7 L482.6,99.1 L486.9,106.7 Z" fill="#25256a"/>
<path d="M483.4,113.4 L487.7,105.8 L492,113.4 Z" fill="#25256a"/>
<path d="M442.6,127.6 L446.9,120 L451.2,127.6 Z" fill="#25256a"/>
<path d="M448.5,127.2 L452.8,119.6 L457.1,127.2 Z" fill="#25256a"/>
<path d="M468.8,128.1 L473.1,120.5 L477.4,128.1 Z" fill="#25256a"/>
<path d="M463.7,132.8 L468,125.2 L472.3,132.8 Z" fill="#25256a"/>
<path d="M458.5,138.4 L462.8,130.8 L467.1,138.4 Z" fill="#25256a"/>
<path d="M467.2,139 L471.5,131.4 L475.8,139 Z" fill="#25256a"/>
<path d="M458.8,144.6 L463.1,137 L467.4,144.6 Z" fill="#25256a"/>
<path d="M456,161.5 L460.3,153.9 L464.6,161.5 Z" fill="#25256a"/>
<path d="M462.3,161.5 L466.6,153.9 L470.9,161.5 Z" fill="#25256a"/>
<path d="M437.2,168.2 L441.5,160.6 L445.8,168.2 Z" fill="#25256a"/>
<path d="M433.1,192.6 L437.4,185 L441.7,192.6 Z" fill="#25256a"/>
<path d="M446,193 L450.3,185.4 L454.6,193 Z" fill="#25256a"/>
<path d="M461.4,207.3 L465.7,199.7 L470,207.3 Z" fill="#25256a"/>
<text x="289.7" y="307.4" font-family='"Liberation Serif", serif' font-size="12.8" font-weight="bold" text-anchor="middle" fill="#000" stroke="#000" stroke-width="0.3" >SMARCA4</text>
<line x1="258.5" y1="312.7" x2="258.5" y2="409.5" stroke="#000" stroke-width="1.5"/>
<line x1="253.5" y1="312.7" x2="258.5" y2="312.7" stroke="#000" stroke-width="1.3"/>
<line x1="253.5" y1="331.7" x2="258.5" y2="331.7" stroke="#000" stroke-width="1.3"/>
<text x="252.3" y="331.7" font-family='"Liberation Serif", serif' font-size="12.4" text-anchor="middle" fill="#000" stroke="#000" stroke-width="0.35" transform="rotate(-90 252.3 331.7)" >400</text>
<line x1="253.5" y1="351.2" x2="258.5" y2="351.2" stroke="#000" stroke-width="1.3"/>
<line x1="253.5" y1="370.4" x2="258.5" y2="370.4" stroke="#000" stroke-width="1.3"/>
<text x="252.3" y="370.4" font-family='"Liberation Serif", serif' font-size="12.4" text-anchor="middle" fill="#000" stroke="#000" stroke-width="0.35" transform="rotate(-90 252.3 370.4)" >200</text>
<line x1="253.5" y1="389.7" x2="258.5" y2="389.7" stroke="#000" stroke-width="1.3"/>
<line x1="253.5" y1="408.9" x2="258.5" y2="408.9" stroke="#000" stroke-width="1.3"/>
<text x="252.3" y="408.9" font-family='"Liberation Serif", serif' font-size="12.4" text-anchor="middle" fill="#000" stroke="#000" stroke-width="0.35" transform="rotate(-90 252.3 408.9)" >0</text>
<text x="239.4" y="362" font-family='"Liberation Serif", serif' font-size="13" font-weight="bold" text-anchor="middle" fill="#000" stroke="#000" stroke-width="0.3" transform="rotate(-90 239.4 362)" >TPM</text>
<rect x="256.4" y="408.9" width="33.7" height="3.9" fill="#5a5a5a"/>
<rect x="290.1" y="408.9" width="9.1" height="3.9" fill="#6fb0e8"/>
<rect x="299.2" y="408.9" width="56.3" height="3.9" fill="#e4a236"/>
<path d="M263.7,414 V417.1 H295.7 V414" stroke="#000" stroke-width="1.4" fill="none" />
<path d="M299.6,414 V417.1 H346.3 V414" stroke="#000" stroke-width="1.4" fill="none" />
<path d="M279.1,430.5 V434.1 H328.6 V430.5" stroke="#000" stroke-width="1.4" fill="none" />
<text x="275.5" y="427.6" font-family='"Liberation Serif", serif' font-size="11.3" text-anchor="middle" fill="#000" stroke="#000" stroke-width="0.35" letter-spacing="-0.2">1.4x10-3</text>
<text x="321" y="427.6" font-family='"Liberation Serif", serif' font-size="11.3" text-anchor="middle" fill="#000" stroke="#000" stroke-width="0.35" letter-spacing="-0.2">2.2x10-2</text>
<text x="303.7" y="443.8" font-family='"Liberation Serif", serif' font-size="11.3" text-anchor="middle" fill="#000" stroke="#000" stroke-width="0.35" letter-spacing="-0.2">8.3x10-14</text>
<rect x="258.8" y="404.2" width="2.6" height="4.7" fill="#686868" stroke="#111" stroke-width="1"/>
<rect x="261.4" y="404.6" width="2.6" height="4.3" fill="#686868" stroke="#111" stroke-width="1"/>
<rect x="264" y="404" width="2.6" height="4.9" fill="#686868" stroke="#111" stroke-width="1"/>
<rect x="266.6" y="403.2" width="2.6" height="5.7" fill="#686868" stroke="#111" stroke-width="1"/>
<rect x="269.2" y="403.6" width="2.6" height="5.3" fill="#686868" stroke="#111" stroke-width="1"/>
<rect x="271.8" y="404" width="2.6" height="4.9" fill="#686868" stroke="#111" stroke-width="1"/>
<rect x="274.4" y="404.6" width="2.6" height="4.3" fill="#686868" stroke="#111" stroke-width="1"/>
<rect x="277" y="404.3" width="2.6" height="4.6" fill="#686868" stroke="#111" stroke-width="1"/>
<rect x="279.6" y="403.2" width="2.6" height="5.7" fill="#686868" stroke="#111" stroke-width="1"/>
<rect x="282.2" y="400" width="2.6" height="8.9" fill="#686868" stroke="#111" stroke-width="1"/>
<rect x="284.8" y="402.5" width="2.6" height="6.4" fill="#686868" stroke="#111" stroke-width="1"/>
<rect x="287.4" y="405" width="2.6" height="3.9" fill="#686868" stroke="#111" stroke-width="1"/>
<rect x="290.6" y="398.9" width="2.73" height="10" fill="#41617f" stroke="#111" stroke-width="1"/>
<rect x="293.33" y="398.9" width="2.73" height="10" fill="#41617f" stroke="#111" stroke-width="1"/>
<rect x="296.07" y="399.2" width="2.73" height="9.7" fill="#41617f" stroke="#111" stroke-width="1"/>
<rect x="300.55" y="377.6" width="2.7" height="31.3" fill="#4a3420" stroke="#111" stroke-width="1"/>
<rect x="303.55" y="390.5" width="2.7" height="18.4" fill="#4a3420" stroke="#111" stroke-width="1"/>
<rect x="305.95" y="398.5" width="2.7" height="10.4" fill="#4a3420" stroke="#111" stroke-width="1"/>
<rect x="308.55" y="393.6" width="2.7" height="15.3" fill="#4a3420" stroke="#111" stroke-width="1"/>
<rect x="311.05" y="398.5" width="2.7" height="10.4" fill="#4a3420" stroke="#111" stroke-width="1"/>
<rect x="313.45" y="391.2" width="2.7" height="17.7" fill="#4a3420" stroke="#111" stroke-width="1"/>
<rect x="315.95" y="385.6" width="2.7" height="23.3" fill="#4a3420" stroke="#111" stroke-width="1"/>
<rect x="319.05" y="375.4" width="2.7" height="33.5" fill="#4a3420" stroke="#111" stroke-width="1"/>
<rect x="321.75" y="391.8" width="2.7" height="17.1" fill="#4a3420" stroke="#111" stroke-width="1"/>
<rect x="323.85" y="401.6" width="2.7" height="7.3" fill="#4a3420" stroke="#111" stroke-width="1"/>
<rect x="326.05" y="397.3" width="2.7" height="11.6" fill="#4a3420" stroke="#111" stroke-width="1"/>
<rect x="328.85" y="393.4" width="2.7" height="15.5" fill="#4a3420" stroke="#111" stroke-width="1"/>
<rect x="331.35" y="397.9" width="2.7" height="11" fill="#4a3420" stroke="#111" stroke-width="1"/>
<rect x="333.75" y="312.4" width="2.7" height="96.5" fill="#4a3420" stroke="#111" stroke-width="1"/>
<rect x="336.45" y="388.1" width="2.7" height="20.8" fill="#4a3420" stroke="#111" stroke-width="1"/>
<rect x="339.25" y="335.2" width="2.7" height="73.7" fill="#4a3420" stroke="#111" stroke-width="1"/>
<rect x="341.75" y="396.1" width="2.7" height="12.8" fill="#4a3420" stroke="#111" stroke-width="1"/>
<rect x="344.15" y="402.2" width="2.7" height="6.7" fill="#4a3420" stroke="#111" stroke-width="1"/>
<rect x="346.35" y="394.2" width="2.7" height="14.7" fill="#4a3420" stroke="#111" stroke-width="1"/>
<rect x="349.05" y="388.1" width="2.7" height="20.8" fill="#4a3420" stroke="#111" stroke-width="1"/>
<rect x="352.15" y="377.4" width="2.7" height="31.5" fill="#4a3420" stroke="#111" stroke-width="1"/>
<text x="445" y="306.7" font-family='"Liberation Serif", serif' font-size="12.8" font-weight="bold" text-anchor="middle" fill="#000" stroke="#000" stroke-width="0.3" >CHD2</text>
<line x1="406.8" y1="326" x2="406.8" y2="409.6" stroke="#000" stroke-width="1.5"/>
<line x1="401.8" y1="326" x2="406.8" y2="326" stroke="#000" stroke-width="1.3"/>
<text x="400.4" y="326" font-family='"Liberation Serif", serif' font-size="12.4" text-anchor="middle" fill="#000" stroke="#000" stroke-width="0.35" transform="rotate(-90 400.4 326)" >2500</text>
<line x1="401.8" y1="342.7" x2="406.8" y2="342.7" stroke="#000" stroke-width="1.3"/>
<line x1="401.8" y1="359.4" x2="406.8" y2="359.4" stroke="#000" stroke-width="1.3"/>
<line x1="401.8" y1="375.6" x2="406.8" y2="375.6" stroke="#000" stroke-width="1.3"/>
<text x="400.4" y="375.6" font-family='"Liberation Serif", serif' font-size="12.4" text-anchor="middle" fill="#000" stroke="#000" stroke-width="0.35" transform="rotate(-90 400.4 375.6)" >1000</text>
<line x1="401.8" y1="392.3" x2="406.8" y2="392.3" stroke="#000" stroke-width="1.3"/>
<line x1="401.8" y1="409" x2="406.8" y2="409" stroke="#000" stroke-width="1.3"/>
<text x="400.4" y="409" font-family='"Liberation Serif", serif' font-size="12.4" text-anchor="middle" fill="#000" stroke="#000" stroke-width="0.35" transform="rotate(-90 400.4 409)" >0</text>
<text x="387.4" y="354.3" font-family='"Liberation Serif", serif' font-size="13" font-weight="bold" text-anchor="middle" fill="#000" stroke="#000" stroke-width="0.3" transform="rotate(-90 387.4 354.3)" >TPM</text>
<rect x="405.5" y="409.4" width="35.5" height="4" fill="#5a5a5a"/>
<rect x="441" y="409.4" width="8.6" height="4" fill="#6fb0e8"/>
<rect x="449.6" y="409.4" width="56.2" height="4" fill="#e4a236"/>
<path d="M413.3,413.9 V416.5 H444.4 V413.9" stroke="#000" stroke-width="1.4" fill="none" />
<path d="M448.5,413.9 V416.5 H496.5 V413.9" stroke="#000" stroke-width="1.4" fill="none" />
<path d="M423.4,431.5 V434.5 H474.7 V431.5" stroke="#000" stroke-width="1.4" fill="none" />
<text x="428" y="426.5" font-family='"Liberation Serif", serif' font-size="11.3" text-anchor="middle" fill="#000" stroke="#000" stroke-width="0.35" letter-spacing="-0.2">9.3x10-2</text>
<text x="473" y="426.5" font-family='"Liberation Serif", serif' font-size="11.3" text-anchor="middle" fill="#000" stroke="#000" stroke-width="0.35" letter-spacing="-0.2">3.9x10-3</text>
<text x="447.3" y="445.3" font-family='"Liberation Serif", serif' font-size="11.3" text-anchor="middle" fill="#000" stroke="#000" stroke-width="0.35" letter-spacing="-0.2">5.5x10-8</text>
<rect x="407.5" y="390.6" width="2.1" height="18.4" fill="#686868" stroke="#111" stroke-width="1"/>
<rect x="409.6" y="390.8" width="2.1" height="18.2" fill="#686868" stroke="#111" stroke-width="1"/>
<rect x="411.7" y="401.5" width="1.8" height="7.5" fill="#686868" stroke="#111" stroke-width="1"/>
<rect x="413.5" y="392.9" width="2.8" height="16.1" fill="#686868" stroke="#111" stroke-width="1"/>
<rect x="416.3" y="392.3" width="2.9" height="16.7" fill="#686868" stroke="#111" stroke-width="1"/>
<rect x="419.2" y="395.2" width="2.3" height="13.8" fill="#686868" stroke="#111" stroke-width="1"/>
<rect x="421.5" y="407.6" width="2.3" height="1.4" fill="#686868" stroke="#111" stroke-width="1"/>
<rect x="423.8" y="395.8" width="2.4" height="13.2" fill="#686868" stroke="#111" stroke-width="1"/>
<rect x="426.4" y="312.7" width="3.2" height="96.3" fill="#686868" stroke="#111" stroke-width="1"/>
<rect x="429.6" y="407.3" width="2.1" height="1.7" fill="#686868" stroke="#111" stroke-width="1"/>
<rect x="431.7" y="399" width="2.2" height="10" fill="#686868" stroke="#111" stroke-width="1"/>
<rect x="434" y="394" width="2.6" height="15" fill="#686868" stroke="#111" stroke-width="1"/>
<rect x="436.8" y="362.3" width="3" height="46.7" fill="#686868" stroke="#111" stroke-width="1"/>
<rect x="441" y="405" width="2.6" height="4" fill="#41617f" stroke="#111" stroke-width="1"/>
<rect x="443.6" y="403.2" width="2.6" height="5.8" fill="#41617f" stroke="#111" stroke-width="1"/>
<rect x="446.2" y="401.6" width="2.6" height="7.4" fill="#41617f" stroke="#111" stroke-width="1"/>
<rect x="450" y="405.4" width="2.64" height="3.6" fill="#4a3420" stroke="#111" stroke-width="1"/>
<rect x="452.64" y="406" width="2.64" height="3" fill="#4a3420" stroke="#111" stroke-width="1"/>
<rect x="455.29" y="405" width="2.64" height="4" fill="#4a3420" stroke="#111" stroke-width="1"/>
<rect x="457.93" y="406.3" width="2.64" height="2.7" fill="#4a3420" stroke="#111" stroke-width="1"/>
<rect x="460.57" y="405.2" width="2.64" height="3.8" fill="#4a3420" stroke="#111" stroke-width="1"/>
<rect x="463.21" y="406" width="2.64" height="3" fill="#4a3420" stroke="#111" stroke-width="1"/>
<rect x="465.86" y="406.4" width="2.64" height="2.6" fill="#4a3420" stroke="#111" stroke-width="1"/>
<rect x="468.5" y="405.8" width="2.64" height="3.2" fill="#4a3420" stroke="#111" stroke-width="1"/>
<rect x="471.14" y="406.3" width="2.64" height="2.7" fill="#4a3420" stroke="#111" stroke-width="1"/>
<rect x="473.79" y="405.5" width="2.64" height="3.5" fill="#4a3420" stroke="#111" stroke-width="1"/>
<rect x="476.43" y="406.2" width="2.64" height="2.8" fill="#4a3420" stroke="#111" stroke-width="1"/>
<rect x="479.07" y="405.9" width="2.64" height="3.1" fill="#4a3420" stroke="#111" stroke-width="1"/>
<rect x="481.71" y="406.3" width="2.64" height="2.7" fill="#4a3420" stroke="#111" stroke-width="1"/>
<rect x="484.36" y="405.6" width="2.64" height="3.4" fill="#4a3420" stroke="#111" stroke-width="1"/>
<rect x="487" y="406.1" width="2.64" height="2.9" fill="#4a3420" stroke="#111" stroke-width="1"/>
<rect x="489.64" y="405.4" width="2.64" height="3.6" fill="#4a3420" stroke="#111" stroke-width="1"/>
<rect x="492.29" y="405.8" width="2.64" height="3.2" fill="#4a3420" stroke="#111" stroke-width="1"/>
<rect x="494.93" y="404.6" width="2.64" height="4.4" fill="#4a3420" stroke="#111" stroke-width="1"/>
<rect x="497.57" y="406" width="2.64" height="3" fill="#4a3420" stroke="#111" stroke-width="1"/>
<rect x="500.21" y="404.8" width="2.64" height="4.2" fill="#4a3420" stroke="#111" stroke-width="1"/>
<rect x="502.86" y="403.6" width="2.64" height="5.4" fill="#4a3420" stroke="#111" stroke-width="1"/>
<text x="291.2" y="464.9" font-family='"Liberation Serif", serif' font-size="12.8" font-weight="bold" text-anchor="middle" fill="#000" stroke="#000" stroke-width="0.3" >CBX8</text>
<line x1="256.3" y1="474" x2="256.3" y2="564.6" stroke="#000" stroke-width="1.5"/>
<line x1="251.3" y1="474" x2="256.3" y2="474" stroke="#000" stroke-width="1.3"/>
<text x="250.6" y="474" font-family='"Liberation Serif", serif' font-size="12.4" text-anchor="middle" fill="#000" stroke="#000" stroke-width="0.35" transform="rotate(-90 250.6 474)" >25</text>
<line x1="251.3" y1="492.1" x2="256.3" y2="492.1" stroke="#000" stroke-width="1.3"/>
<line x1="251.3" y1="510.1" x2="256.3" y2="510.1" stroke="#000" stroke-width="1.3"/>
<text x="250.6" y="510.1" font-family='"Liberation Serif", serif' font-size="12.4" text-anchor="middle" fill="#000" stroke="#000" stroke-width="0.35" transform="rotate(-90 250.6 510.1)" >15</text>
<line x1="251.3" y1="528" x2="256.3" y2="528" stroke="#000" stroke-width="1.3"/>
<line x1="251.3" y1="546" x2="256.3" y2="546" stroke="#000" stroke-width="1.3"/>
<text x="250.6" y="546" font-family='"Liberation Serif", serif' font-size="12.4" text-anchor="middle" fill="#000" stroke="#000" stroke-width="0.35" transform="rotate(-90 250.6 546)" >5</text>
<line x1="251.3" y1="564" x2="256.3" y2="564" stroke="#000" stroke-width="1.3"/>
<text x="250.6" y="564" font-family='"Liberation Serif", serif' font-size="12.4" text-anchor="middle" fill="#000" stroke="#000" stroke-width="0.35" transform="rotate(-90 250.6 564)" >0</text>
<text x="239.5" y="511.7" font-family='"Liberation Serif", serif' font-size="13" font-weight="bold" text-anchor="middle" fill="#000" stroke="#000" stroke-width="0.3" transform="rotate(-90 239.5 511.7)" >TPM</text>
<rect x="256.3" y="564" width="33.4" height="4.2" fill="#5a5a5a"/>
<rect x="289.7" y="564" width="9.3" height="4.2" fill="#6fb0e8"/>
<rect x="299" y="564" width="54.8" height="4.2" fill="#e4a236"/>
<path d="M261.4,568.4 V571.7 H295.4 V568.4" stroke="#000" stroke-width="1.4" fill="none" />
<path d="M298.4,568.4 V571.7 H350.4 V568.4" stroke="#000" stroke-width="1.4" fill="none" />
<path d="M277.8,585.8 V589.3 H328.3 V585.8" stroke="#000" stroke-width="1.4" fill="none" />
<text x="274.4" y="583.5" font-family='"Liberation Serif", serif' font-size="11.3" text-anchor="middle" fill="#000" stroke="#000" stroke-width="0.35" letter-spacing="-0.2">8.4x10-1</text>
<text x="322" y="583.5" font-family='"Liberation Serif", serif' font-size="11.3" text-anchor="middle" fill="#000" stroke="#000" stroke-width="0.35" letter-spacing="-0.2">1.1x10-2</text>
<text x="303" y="598.2" font-family='"Liberation Serif", serif' font-size="11.3" text-anchor="middle" fill="#000" stroke="#000" stroke-width="0.35" letter-spacing="-0.2">1.0 x 10-5</text>
<rect x="257.2" y="549.6" width="2.6" height="14.4" fill="#686868" stroke="#111" stroke-width="1"/>
<rect x="260.3" y="551.3" width="2.6" height="12.7" fill="#686868" stroke="#111" stroke-width="1"/>
<rect x="263.1" y="561.3" width="2.6" height="2.7" fill="#686868" stroke="#111" stroke-width="1"/>
<rect x="265.6" y="561.3" width="2.6" height="2.7" fill="#686868" stroke="#111" stroke-width="1"/>
<rect x="268.2" y="559.1" width="2.6" height="4.9" fill="#686868" stroke="#111" stroke-width="1"/>
<rect x="270.5" y="549.2" width="2.6" height="14.8" fill="#686868" stroke="#111" stroke-width="1"/>
<rect x="273" y="526.3" width="2.6" height="37.7" fill="#686868" stroke="#111" stroke-width="1"/>
<rect x="275.8" y="549.2" width="2.6" height="14.8" fill="#686868" stroke="#111" stroke-width="1"/>
<rect x="278.3" y="552.8" width="2.6" height="11.2" fill="#686868" stroke="#111" stroke-width="1"/>
<rect x="280.9" y="554.9" width="2.6" height="9.1" fill="#686868" stroke="#111" stroke-width="1"/>
<rect x="283.2" y="556" width="2.6" height="8" fill="#686868" stroke="#111" stroke-width="1"/>
<rect x="285.7" y="524.9" width="2.6" height="39.1" fill="#686868" stroke="#111" stroke-width="1"/>
<rect x="289.5" y="558.1" width="2.6" height="5.9" fill="#41617f" stroke="#111" stroke-width="1"/>
<rect x="292.1" y="552.8" width="2.6" height="11.2" fill="#41617f" stroke="#111" stroke-width="1"/>
<rect x="294.8" y="548.6" width="2.6" height="15.4" fill="#41617f" stroke="#111" stroke-width="1"/>
<rect x="299.5" y="527.4" width="2.6" height="36.6" fill="#4a3420" stroke="#111" stroke-width="1"/>
<rect x="302.2" y="533.8" width="2.6" height="30.2" fill="#4a3420" stroke="#111" stroke-width="1"/>
<rect x="304.8" y="545" width="2.6" height="19" fill="#4a3420" stroke="#111" stroke-width="1"/>
<rect x="307.5" y="477.3" width="2.6" height="86.7" fill="#4a3420" stroke="#111" stroke-width="1"/>
<rect x="310" y="527.4" width="2.6" height="36.6" fill="#4a3420" stroke="#111" stroke-width="1"/>
<rect x="312.6" y="468.2" width="2.6" height="95.8" fill="#4a3420" stroke="#111" stroke-width="1"/>
<rect x="315.1" y="529.5" width="2.6" height="34.5" fill="#4a3420" stroke="#111" stroke-width="1"/>
<rect x="317.7" y="509.8" width="2.6" height="54.2" fill="#4a3420" stroke="#111" stroke-width="1"/>
<rect x="320.2" y="524.2" width="2.6" height="39.8" fill="#4a3420" stroke="#111" stroke-width="1"/>
<rect x="322.7" y="553.4" width="2.6" height="10.6" fill="#4a3420" stroke="#111" stroke-width="1"/>
<rect x="325.3" y="528.5" width="2.6" height="35.5" fill="#4a3420" stroke="#111" stroke-width="1"/>
<rect x="327.8" y="499.3" width="2.6" height="64.7" fill="#4a3420" stroke="#111" stroke-width="1"/>
<rect x="330.4" y="543.3" width="2.6" height="20.7" fill="#4a3420" stroke="#111" stroke-width="1"/>
<rect x="332.9" y="539.5" width="2.6" height="24.5" fill="#4a3420" stroke="#111" stroke-width="1"/>
<rect x="335.4" y="555.5" width="2.6" height="8.5" fill="#4a3420" stroke="#111" stroke-width="1"/>
<rect x="338" y="547.1" width="2.6" height="16.9" fill="#4a3420" stroke="#111" stroke-width="1"/>
<rect x="340.5" y="540.1" width="2.6" height="23.9" fill="#4a3420" stroke="#111" stroke-width="1"/>
<rect x="343.1" y="540.7" width="2.6" height="23.3" fill="#4a3420" stroke="#111" stroke-width="1"/>
<rect x="345.6" y="546.4" width="2.6" height="17.6" fill="#4a3420" stroke="#111" stroke-width="1"/>
<rect x="348.1" y="518.5" width="2.6" height="45.5" fill="#4a3420" stroke="#111" stroke-width="1"/>
<rect x="350.9" y="546.4" width="2.6" height="17.6" fill="#4a3420" stroke="#111" stroke-width="1"/>
<text x="447.9" y="464.5" font-family='"Liberation Serif", serif' font-size="12.8" font-weight="bold" text-anchor="middle" fill="#000" stroke="#000" stroke-width="0.3" >EPC1</text>
<line x1="405" y1="465" x2="405" y2="560.2" stroke="#000" stroke-width="1.5"/>
<line x1="400" y1="465" x2="405" y2="465" stroke="#000" stroke-width="1.3"/>
<text x="399.5" y="465" font-family='"Liberation Serif", serif' font-size="12.4" text-anchor="middle" fill="#000" stroke="#000" stroke-width="0.35" transform="rotate(-90 399.5 465)" >300</text>
<line x1="400" y1="480.8" x2="405" y2="480.8" stroke="#000" stroke-width="1.3"/>
<line x1="400" y1="496.5" x2="405" y2="496.5" stroke="#000" stroke-width="1.3"/>
<text x="399.5" y="496.5" font-family='"Liberation Serif", serif' font-size="12.4" text-anchor="middle" fill="#000" stroke="#000" stroke-width="0.35" transform="rotate(-90 399.5 496.5)" >200</text>
<line x1="400" y1="512.3" x2="405" y2="512.3" stroke="#000" stroke-width="1.3"/>
<line x1="400" y1="528.1" x2="405" y2="528.1" stroke="#000" stroke-width="1.3"/>
<text x="399.5" y="528.1" font-family='"Liberation Serif", serif' font-size="12.4" text-anchor="middle" fill="#000" stroke="#000" stroke-width="0.35" transform="rotate(-90 399.5 528.1)" >100</text>
<line x1="400" y1="543.8" x2="405" y2="543.8" stroke="#000" stroke-width="1.3"/>
<line x1="400" y1="559.6" x2="405" y2="559.6" stroke="#000" stroke-width="1.3"/>
<text x="399.5" y="559.6" font-family='"Liberation Serif", serif' font-size="12.4" text-anchor="middle" fill="#000" stroke="#000" stroke-width="0.35" transform="rotate(-90 399.5 559.6)" >0</text>
<text x="388.3" y="508" font-family='"Liberation Serif", serif' font-size="13" font-weight="bold" text-anchor="middle" fill="#000" stroke="#000" stroke-width="0.3" transform="rotate(-90 388.3 508)" >TPM</text>
<rect x="404.2" y="560.3" width="33.3" height="3.7" fill="#5a5a5a"/>
<rect x="437.5" y="560.3" width="9.7" height="3.7" fill="#6fb0e8"/>
<rect x="447.2" y="560.3" width="56.5" height="3.7" fill="#e4a236"/>
<path d="M411.3,564.3 V567.5 H443 V564.3" stroke="#000" stroke-width="1.4" fill="none" />
<path d="M447,564.3 V567.5 H493.1 V564.3" stroke="#000" stroke-width="1.4" fill="none" />
<path d="M427.1,582.5 V586.3 H476.6 V582.5" stroke="#000" stroke-width="1.4" fill="none" />
<text x="423.8" y="580" font-family='"Liberation Serif", serif' font-size="11.3" text-anchor="middle" fill="#000" stroke="#000" stroke-width="0.35" letter-spacing="-0.2">2.1x10-1</text>
<text x="471.4" y="580" font-family='"Liberation Serif", serif' font-size="11.3" text-anchor="middle" fill="#000" stroke="#000" stroke-width="0.35" letter-spacing="-0.2">6.9x10-3</text>
<text x="451.1" y="597.3" font-family='"Liberation Serif", serif' font-size="11.3" text-anchor="middle" fill="#000" stroke="#000" stroke-width="0.35" letter-spacing="-0.2">3.3x10-7</text>
<rect x="405.5" y="485" width="4.1" height="74.6" fill="#111" stroke="#111" stroke-width="1"/>
<rect x="409.6" y="527.3" width="2" height="32.3" fill="#686868" stroke="#111" stroke-width="1"/>
<rect x="411.6" y="484.2" width="2.6" height="75.4" fill="#686868" stroke="#111" stroke-width="1"/>
<rect x="414.2" y="462.7" width="3.1" height="96.9" fill="#686868" stroke="#111" stroke-width="1"/>
<rect x="417.3" y="485" width="2.3" height="74.6" fill="#686868" stroke="#111" stroke-width="1"/>
<rect x="419.6" y="551.2" width="2.3" height="8.4" fill="#686868" stroke="#111" stroke-width="1"/>
<rect x="421.9" y="468" width="3.1" height="91.6" fill="#686868" stroke="#111" stroke-width="1"/>
<rect x="425" y="495.8" width="2.6" height="63.8" fill="#686868" stroke="#111" stroke-width="1"/>
<rect x="427.6" y="551.2" width="2" height="8.4" fill="#686868" stroke="#111" stroke-width="1"/>
<rect x="429.6" y="525.8" width="2.6" height="33.8" fill="#686868" stroke="#111" stroke-width="1"/>
<rect x="432.2" y="475" width="3.6" height="84.6" fill="#686868" stroke="#111" stroke-width="1"/>
<rect x="435.8" y="519.3" width="2.3" height="40.3" fill="#686868" stroke="#111" stroke-width="1"/>
<rect x="438.8" y="538.8" width="2.4" height="20.8" fill="#41617f" stroke="#111" stroke-width="1"/>
<rect x="441.2" y="531.9" width="2.7" height="27.7" fill="#41617f" stroke="#111" stroke-width="1"/>
<rect x="443.9" y="513.5" width="3.1" height="46.1" fill="#41617f" stroke="#111" stroke-width="1"/>
<rect x="450.6" y="549.4" width="2.6" height="10.2" fill="#4a3420" stroke="#111" stroke-width="1"/>
<rect x="453.45" y="542.25" width="2.6" height="17.35" fill="#4a3420" stroke="#111" stroke-width="1"/>
<rect x="456.45" y="545.6" width="2.6" height="14" fill="#4a3420" stroke="#111" stroke-width="1"/>
<rect x="458.7" y="548.1" width="2.6" height="11.5" fill="#4a3420" stroke="#111" stroke-width="1"/>
<rect x="461.2" y="539.4" width="2.6" height="20.2" fill="#4a3420" stroke="#111" stroke-width="1"/>
<rect x="463.95" y="552.75" width="2.6" height="6.85" fill="#4a3420" stroke="#111" stroke-width="1"/>
<rect x="466.6" y="531.5" width="2.6" height="28.1" fill="#4a3420" stroke="#111" stroke-width="1"/>
<rect x="469.3" y="547.5" width="2.6" height="12.1" fill="#4a3420" stroke="#111" stroke-width="1"/>
<rect x="471.8" y="552.25" width="2.6" height="7.35" fill="#4a3420" stroke="#111" stroke-width="1"/>
<rect x="474.1" y="551.9" width="2.6" height="7.7" fill="#4a3420" stroke="#111" stroke-width="1"/>
<rect x="476.6" y="550.6" width="2.6" height="9" fill="#4a3420" stroke="#111" stroke-width="1"/>
<rect x="479.1" y="548.75" width="2.6" height="10.85" fill="#4a3420" stroke="#111" stroke-width="1"/>
<rect x="481.6" y="552.75" width="2.6" height="6.85" fill="#4a3420" stroke="#111" stroke-width="1"/>
<rect x="484.3" y="544.75" width="2.6" height="14.85" fill="#4a3420" stroke="#111" stroke-width="1"/>
<rect x="486.8" y="550.6" width="2.6" height="9" fill="#4a3420" stroke="#111" stroke-width="1"/>
<rect x="489.3" y="550" width="2.6" height="9.6" fill="#4a3420" stroke="#111" stroke-width="1"/>
<rect x="492.2" y="552.25" width="2.6" height="7.35" fill="#4a3420" stroke="#111" stroke-width="1"/>
<rect x="494.3" y="546.9" width="2.6" height="12.7" fill="#4a3420" stroke="#111" stroke-width="1"/>
<rect x="496.8" y="551.9" width="2.6" height="7.7" fill="#4a3420" stroke="#111" stroke-width="1"/>
<rect x="499.7" y="543.75" width="2.6" height="15.85" fill="#4a3420" stroke="#111" stroke-width="1"/>
<rect x="221" y="606" width="6.6" height="10.6" fill="#9a9a9a" stroke="#222" stroke-width="1.2"/>
<text x="230.5" y="615" font-family='"Liberation Serif", serif' font-size="12.3" font-weight="bold" text-anchor="start" fill="#000" stroke="#000" stroke-width="0.3" >Hematopoietic cells</text>
<rect x="335.6" y="606" width="7.8" height="11.4" fill="#7fb3e0" stroke="#222" stroke-width="1.2"/>
<text x="346" y="615" font-family='"Liberation Serif", serif' font-size="12.3" font-weight="bold" text-anchor="start" fill="#000" stroke="#000" stroke-width="0.3" >Progenitors</text>
<rect x="409.2" y="606" width="8.4" height="11.4" fill="#e39a2e" stroke="#222" stroke-width="1.2"/>
<text x="420.3" y="615" font-family='"Liberation Serif", serif' font-size="12.3" font-weight="bold" text-anchor="start" fill="#000" stroke="#000" stroke-width="0.3" >Leukemic cell lines</text>
<line x1="278.9" y1="672.2" x2="285.7" y2="672.2" stroke="#000" stroke-width="1.9"/>
<text x="278.8" y="676.4" font-family='"Liberation Serif", serif' font-size="12.7" text-anchor="end" fill="#000" stroke="#000" stroke-width="0.35" letter-spacing="-0.5">350</text>
<line x1="278.9" y1="685.7" x2="285.7" y2="685.7" stroke="#000" stroke-width="1.9"/>
<text x="278.8" y="689.9" font-family='"Liberation Serif", serif' font-size="12.7" text-anchor="end" fill="#000" stroke="#000" stroke-width="0.35" letter-spacing="-0.5">300</text>
<line x1="278.9" y1="699.1" x2="285.7" y2="699.1" stroke="#000" stroke-width="1.9"/>
<text x="278.8" y="703.3" font-family='"Liberation Serif", serif' font-size="12.7" text-anchor="end" fill="#000" stroke="#000" stroke-width="0.35" letter-spacing="-0.5">250</text>
<line x1="278.9" y1="712.1" x2="285.7" y2="712.1" stroke="#000" stroke-width="1.9"/>
<text x="278.8" y="716.3" font-family='"Liberation Serif", serif' font-size="12.7" text-anchor="end" fill="#000" stroke="#000" stroke-width="0.35" letter-spacing="-0.5">200</text>
<line x1="278.9" y1="725.3" x2="285.7" y2="725.3" stroke="#000" stroke-width="1.9"/>
<text x="278.8" y="729.5" font-family='"Liberation Serif", serif' font-size="12.7" text-anchor="end" fill="#000" stroke="#000" stroke-width="0.35" letter-spacing="-0.5">150</text>
<line x1="278.9" y1="738.7" x2="285.7" y2="738.7" stroke="#000" stroke-width="1.9"/>
<text x="278.8" y="742.9" font-family='"Liberation Serif", serif' font-size="12.7" text-anchor="end" fill="#000" stroke="#000" stroke-width="0.35" letter-spacing="-0.5">100</text>
<line x1="278.9" y1="752" x2="285.7" y2="752" stroke="#000" stroke-width="1.9"/>
<text x="278.8" y="756.2" font-family='"Liberation Serif", serif' font-size="12.7" text-anchor="end" fill="#000" stroke="#000" stroke-width="0.35" letter-spacing="-0.5">50</text>
<line x1="278.9" y1="765.8" x2="285.7" y2="765.8" stroke="#000" stroke-width="1.9"/>
<text x="278.8" y="770" font-family='"Liberation Serif", serif' font-size="12.7" text-anchor="end" fill="#000" stroke="#000" stroke-width="0.35" letter-spacing="-0.5">0</text>
<rect x="285.7" y="668.2" width="205.2" height="100.6" fill="none" stroke="#000" stroke-width="2.5"/>
<text x="382.5" y="684.8" font-family='"Liberation Serif", serif' font-size="13.2" font-weight="bold" text-anchor="middle" fill="#000" stroke="#000" stroke-width="0.3" >DNMT1</text>
<text x="257.3" y="718.8" font-family='"Liberation Serif", serif' font-size="13" font-weight="bold" text-anchor="middle" fill="#000" stroke="#000" stroke-width="0.3" transform="rotate(-90 257.3 718.8)" >TPM</text>
<line x1="324.2" y1="768.8" x2="324.2" y2="774.3" stroke="#000" stroke-width="1.6"/>
<line x1="387.8" y1="768.8" x2="387.8" y2="774.3" stroke="#000" stroke-width="1.6"/>
<line x1="451.9" y1="768.8" x2="451.9" y2="774.3" stroke="#000" stroke-width="1.6"/>
<line x1="324.2" y1="746.2" x2="324.2" y2="753.2" stroke="#000" stroke-width="1.3" stroke-dasharray="3.5 3"/>
<line x1="311.2" y1="746.2" x2="337.2" y2="746.2" stroke="#000" stroke-width="1.5"/>
<line x1="324.2" y1="761.2" x2="324.2" y2="765.8" stroke="#000" stroke-width="1.3" stroke-dasharray="3.5 3"/>
<line x1="311.2" y1="765.8" x2="337.2" y2="765.8" stroke="#000" stroke-width="1.5"/>
<rect x="298.7" y="753.2" width="51.3" height="8" fill="#999999" stroke="#000" stroke-width="2"/>
<line x1="298.7" y1="757.2" x2="350" y2="757.2" stroke="#000" stroke-width="2.4"/>
<circle cx="324.2" cy="738.5" r="1.5" fill="#000"/>
<line x1="362.5" y1="747.3" x2="413.8" y2="747.3" stroke="#000" stroke-width="2.2"/>
<rect x="375" y="745.2" width="26.3" height="4.6" fill="#111" stroke="#000" stroke-width="1"/>
<line x1="451.9" y1="710" x2="451.9" y2="719.7" stroke="#000" stroke-width="1.3" stroke-dasharray="3.5 3"/>
<line x1="438.9" y1="710" x2="464.9" y2="710" stroke="#000" stroke-width="1.5"/>
<line x1="451.9" y1="739.9" x2="451.9" y2="747.7" stroke="#000" stroke-width="1.3" stroke-dasharray="3.5 3"/>
<line x1="438.9" y1="747.7" x2="464.9" y2="747.7" stroke="#000" stroke-width="1.5"/>
<rect x="425.8" y="719.7" width="51.7" height="20.2" fill="#dc8c2c" stroke="#000" stroke-width="1.4"/>
<line x1="425.8" y1="731.8" x2="477.5" y2="731.8" stroke="#000" stroke-width="3.2"/>
<circle cx="451.9" cy="672.3" r="1.5" fill="#000"/>
<circle cx="451.9" cy="683.9" r="1.5" fill="#000"/>
<circle cx="360.8" cy="640.4" r="1.5" fill="#000"/>
<text x="362.9" y="646" font-family='"Liberation Serif", serif' font-size="12.4" text-anchor="start" fill="#000" stroke="#000" stroke-width="0.35" letter-spacing="-0.2">4.0x10-14</text>
<path d="M325.5,653 V649.1 H449.5 V653" stroke="#000" stroke-width="1.4" fill="none" />
<circle cx="329.1" cy="655.2" r="1.5" fill="#000"/>
<text x="331.2" y="660.8" font-family='"Liberation Serif", serif' font-size="12.4" text-anchor="start" fill="#000" stroke="#000" stroke-width="0.35" letter-spacing="-0.2">6.3x10-3</text>
<path d="M319.4,667.5 V663.8 H381.5 V667.5" stroke="#000" stroke-width="1.4" fill="none" />
<circle cx="399.9" cy="655.2" r="1.5" fill="#000"/>
<text x="402" y="660.8" font-family='"Liberation Serif", serif' font-size="12.4" text-anchor="start" fill="#000" stroke="#000" stroke-width="0.35" letter-spacing="-0.2">3.9x10-3</text>
<path d="M391.3,667.5 V663.8 H451.4 V667.5" stroke="#000" stroke-width="1.4" fill="none" />
<line x1="280.4" y1="819.5" x2="286" y2="819.5" stroke="#000" stroke-width="1.9"/>
<text x="280.3" y="823.7" font-family='"Liberation Serif", serif' font-size="12.7" text-anchor="end" fill="#000" stroke="#000" stroke-width="0.35" letter-spacing="-0.5">600</text>
<line x1="280.4" y1="837" x2="286" y2="837" stroke="#000" stroke-width="1.9"/>
<text x="280.3" y="841.2" font-family='"Liberation Serif", serif' font-size="12.7" text-anchor="end" fill="#000" stroke="#000" stroke-width="0.35" letter-spacing="-0.5">400</text>
<line x1="280.4" y1="854.2" x2="286" y2="854.2" stroke="#000" stroke-width="1.9"/>
<text x="280.3" y="858.4" font-family='"Liberation Serif", serif' font-size="12.7" text-anchor="end" fill="#000" stroke="#000" stroke-width="0.35" letter-spacing="-0.5">300</text>
<line x1="280.4" y1="871.7" x2="286" y2="871.7" stroke="#000" stroke-width="1.9"/>
<text x="280.3" y="875.9" font-family='"Liberation Serif", serif' font-size="12.7" text-anchor="end" fill="#000" stroke="#000" stroke-width="0.35" letter-spacing="-0.5">200</text>
<line x1="280.4" y1="888.9" x2="286" y2="888.9" stroke="#000" stroke-width="1.9"/>
<text x="280.3" y="893.1" font-family='"Liberation Serif", serif' font-size="12.7" text-anchor="end" fill="#000" stroke="#000" stroke-width="0.35" letter-spacing="-0.5">100</text>
<line x1="280.4" y1="906.2" x2="286" y2="906.2" stroke="#000" stroke-width="1.9"/>
<text x="280.3" y="910.4" font-family='"Liberation Serif", serif' font-size="12.7" text-anchor="end" fill="#000" stroke="#000" stroke-width="0.35" letter-spacing="-0.5">0</text>
<rect x="286" y="806.6" width="205" height="102" fill="none" stroke="#000" stroke-width="2.5"/>
<text x="383.4" y="823.3" font-family='"Liberation Serif", serif' font-size="13.2" font-weight="bold" text-anchor="middle" fill="#000" stroke="#000" stroke-width="0.3" >MLL5</text>
<text x="261" y="852.3" font-family='"Liberation Serif", serif' font-size="13" font-weight="bold" text-anchor="middle" fill="#000" stroke="#000" stroke-width="0.3" transform="rotate(-90 261 852.3)" >TPM</text>
<line x1="324.2" y1="908.6" x2="324.2" y2="914.1" stroke="#000" stroke-width="1.6"/>
<line x1="387.8" y1="908.6" x2="387.8" y2="914.1" stroke="#000" stroke-width="1.6"/>
<line x1="451.9" y1="908.6" x2="451.9" y2="914.1" stroke="#000" stroke-width="1.6"/>
<line x1="325" y1="838.5" x2="325" y2="868.5" stroke="#000" stroke-width="1.3" stroke-dasharray="3.5 3"/>
<line x1="312" y1="838.5" x2="338" y2="838.5" stroke="#000" stroke-width="1.5"/>
<line x1="325" y1="890.5" x2="325" y2="901.7" stroke="#000" stroke-width="1.3" stroke-dasharray="3.5 3"/>
<line x1="312" y1="901.7" x2="338" y2="901.7" stroke="#000" stroke-width="1.5"/>
<rect x="299.3" y="868.5" width="51.9" height="22" fill="#c9c9c9" stroke="#000" stroke-width="1.4"/>
<line x1="299.3" y1="876.5" x2="351.2" y2="876.5" stroke="#000" stroke-width="3.2"/>
<circle cx="325.2" cy="810.4" r="1.5" fill="#000"/>
<circle cx="325.2" cy="819.8" r="1.5" fill="#000"/>
<line x1="388" y1="890.4" x2="388" y2="891.6" stroke="#000" stroke-width="1.3" stroke-dasharray="3.5 3"/>
<line x1="378" y1="890.4" x2="398" y2="890.4" stroke="#000" stroke-width="1.5"/>
<rect x="362.7" y="891.6" width="51.7" height="6.9" fill="#9fb4c8" stroke="#000" stroke-width="1.4"/>
<line x1="362.7" y1="894.8" x2="414.4" y2="894.8" stroke="#000" stroke-width="2.5"/>
<line x1="451.9" y1="894.4" x2="451.9" y2="897.7" stroke="#000" stroke-width="1.3" stroke-dasharray="3.5 3"/>
<line x1="439.4" y1="894.4" x2="464.4" y2="894.4" stroke="#000" stroke-width="1.5"/>
<line x1="451.9" y1="902.5" x2="451.9" y2="904.5" stroke="#000" stroke-width="1.3" stroke-dasharray="3.5 3"/>
<line x1="439.4" y1="904.5" x2="464.4" y2="904.5" stroke="#000" stroke-width="1.5"/>
<rect x="426.5" y="897.7" width="51.3" height="4.8" fill="#151515" stroke="#000" stroke-width="1.4"/>
<circle cx="451.6" cy="889.2" r="1.5" fill="#000"/>
<circle cx="366.2" cy="780" r="1.5" fill="#000"/>
<text x="368.3" y="785.6" font-family='"Liberation Serif", serif' font-size="12.4" text-anchor="start" fill="#000" stroke="#000" stroke-width="0.35" letter-spacing="-0.2">4.7x10-9</text>
<path d="M323.6,791.5 V788.3 H448.1 V791.5" stroke="#000" stroke-width="1.4" fill="none" />
<circle cx="333.9" cy="793.5" r="1.5" fill="#000"/>
<text x="336" y="799.1" font-family='"Liberation Serif", serif' font-size="12.4" text-anchor="start" fill="#000" stroke="#000" stroke-width="0.35" letter-spacing="-0.2">7.2x10-2</text>
<path d="M324.4,806 V801.8 H386.4 V806" stroke="#000" stroke-width="1.4" fill="none" />
<circle cx="414.9" cy="792.9" r="1.5" fill="#000"/>
<text x="417" y="798.5" font-family='"Liberation Serif", serif' font-size="12.4" text-anchor="start" fill="#000" stroke="#000" stroke-width="0.35" letter-spacing="-0.2">0.17</text>
<path d="M395,806 V802.2 H455 V806" stroke="#000" stroke-width="1.4" fill="none" />
<line x1="281.2" y1="960" x2="285.7" y2="960" stroke="#000" stroke-width="1.9"/>
<text x="281.1" y="964.2" font-family='"Liberation Serif", serif' font-size="12.7" text-anchor="end" fill="#000" stroke="#000" stroke-width="0.35" letter-spacing="-0.5">600</text>
<line x1="281.2" y1="978" x2="285.7" y2="978" stroke="#000" stroke-width="1.9"/>
<text x="281.1" y="982.2" font-family='"Liberation Serif", serif' font-size="12.7" text-anchor="end" fill="#000" stroke="#000" stroke-width="0.35" letter-spacing="-0.5">400</text>
<line x1="281.2" y1="995.5" x2="285.7" y2="995.5" stroke="#000" stroke-width="1.9"/>
<text x="281.1" y="999.7" font-family='"Liberation Serif", serif' font-size="12.7" text-anchor="end" fill="#000" stroke="#000" stroke-width="0.35" letter-spacing="-0.5">300</text>
<line x1="281.2" y1="1012.5" x2="285.7" y2="1012.5" stroke="#000" stroke-width="1.9"/>
<text x="281.1" y="1016.7" font-family='"Liberation Serif", serif' font-size="12.7" text-anchor="end" fill="#000" stroke="#000" stroke-width="0.35" letter-spacing="-0.5">200</text>
<line x1="281.2" y1="1029" x2="285.7" y2="1029" stroke="#000" stroke-width="1.9"/>
<text x="281.1" y="1033.2" font-family='"Liberation Serif", serif' font-size="12.7" text-anchor="end" fill="#000" stroke="#000" stroke-width="0.35" letter-spacing="-0.5">100</text>
<line x1="281.2" y1="1045" x2="285.7" y2="1045" stroke="#000" stroke-width="1.9"/>
<text x="281.1" y="1049.2" font-family='"Liberation Serif", serif' font-size="12.7" text-anchor="end" fill="#000" stroke="#000" stroke-width="0.35" letter-spacing="-0.5">0</text>
<rect x="285.7" y="945.9" width="205.3" height="100.6" fill="none" stroke="#000" stroke-width="2.5"/>
<text x="382.7" y="961.5" font-family='"Liberation Serif", serif' font-size="13.2" font-weight="bold" text-anchor="middle" fill="#000" stroke="#000" stroke-width="0.3" >PRDM2</text>
<text x="261.3" y="995.9" font-family='"Liberation Serif", serif' font-size="13" font-weight="bold" text-anchor="middle" fill="#000" stroke="#000" stroke-width="0.3" transform="rotate(-90 261.3 995.9)" >TPM</text>
<line x1="324.2" y1="1046.5" x2="324.2" y2="1052" stroke="#000" stroke-width="1.6"/>
<line x1="387.8" y1="1046.5" x2="387.8" y2="1052" stroke="#000" stroke-width="1.6"/>
<line x1="451.9" y1="1046.5" x2="451.9" y2="1052" stroke="#000" stroke-width="1.6"/>
<line x1="325" y1="989" x2="325" y2="1014" stroke="#000" stroke-width="1.3" stroke-dasharray="3.5 3"/>
<line x1="312" y1="989" x2="338" y2="989" stroke="#000" stroke-width="1.5"/>
<line x1="325" y1="1032.5" x2="325" y2="1042.5" stroke="#000" stroke-width="1.3" stroke-dasharray="3.5 3"/>
<line x1="312" y1="1042.5" x2="338" y2="1042.5" stroke="#000" stroke-width="1.5"/>
<rect x="299" y="1014" width="51.5" height="18.5" fill="#c9c9c9" stroke="#000" stroke-width="1.4"/>
<line x1="299" y1="1024" x2="350.5" y2="1024" stroke="#000" stroke-width="3"/>
<circle cx="325" cy="949.5" r="1.5" fill="#000"/>
<circle cx="325" cy="952.2" r="1.5" fill="#000"/>
<circle cx="325" cy="957.5" r="1.5" fill="#000"/>
<circle cx="325" cy="970" r="1.5" fill="#000"/>
<rect x="362.5" y="1037.5" width="51.5" height="5" fill="#151515" stroke="#000" stroke-width="1.4"/>
<line x1="451.9" y1="1031.5" x2="451.9" y2="1036" stroke="#000" stroke-width="1.3" stroke-dasharray="3.5 3"/>
<line x1="439.4" y1="1031.5" x2="464.4" y2="1031.5" stroke="#000" stroke-width="1.5"/>
<line x1="451.9" y1="1042.5" x2="451.9" y2="1044" stroke="#000" stroke-width="1.3" stroke-dasharray="3.5 3"/>
<line x1="439.4" y1="1044" x2="464.4" y2="1044" stroke="#000" stroke-width="1.5"/>
<rect x="426" y="1036" width="51.5" height="6.5" fill="#151515" stroke="#000" stroke-width="1.4"/>
<circle cx="368.1" cy="917.1" r="1.5" fill="#000"/>
<text x="370.2" y="922.7" font-family='"Liberation Serif", serif' font-size="12.4" text-anchor="start" fill="#000" stroke="#000" stroke-width="0.35" letter-spacing="-0.2">8.8x10-7</text>
<path d="M326.3,929.5 V926.5 H449.5 V929.5" stroke="#000" stroke-width="1.4" fill="none" />
<circle cx="334.4" cy="932.9" r="1.5" fill="#000"/>
<text x="336.5" y="938.5" font-family='"Liberation Serif", serif' font-size="12.4" text-anchor="start" fill="#000" stroke="#000" stroke-width="0.35" letter-spacing="-0.2">2.9x10-2</text>
<path d="M323.8,945 V941.3 H386.5 V945" stroke="#000" stroke-width="1.4" fill="none" />
<circle cx="411" cy="932.9" r="1.5" fill="#000"/>
<text x="413.1" y="938.5" font-family='"Liberation Serif", serif' font-size="12.4" text-anchor="start" fill="#000" stroke="#000" stroke-width="0.35" letter-spacing="-0.2">0.93</text>
<path d="M391.5,945 V941.3 H455 V945" stroke="#000" stroke-width="1.4" fill="none" />
<text x="319.5" y="1061" font-family='"Liberation Serif", serif' font-size="13.3" font-weight="bold" text-anchor="middle" fill="#000" stroke="#000" stroke-width="0.3" >Hematopoietic</text>
<text x="320" y="1074" font-family='"Liberation Serif", serif' font-size="13.3" font-weight="bold" text-anchor="middle" fill="#000" stroke="#000" stroke-width="0.3" >cells</text>
<text x="395" y="1061" font-family='"Liberation Serif", serif' font-size="13.3" font-weight="bold" text-anchor="middle" fill="#000" stroke="#000" stroke-width="0.3" >Progenitors</text>
<text x="457.5" y="1061" font-family='"Liberation Serif", serif' font-size="13.3" font-weight="bold" text-anchor="middle" fill="#000" stroke="#000" stroke-width="0.3" >Leukemic</text>
<text x="457.5" y="1074" font-family='"Liberation Serif", serif' font-size="13.3" font-weight="bold" text-anchor="middle" fill="#000" stroke="#000" stroke-width="0.3" >cell lines</text>
</svg>
</body></html>
